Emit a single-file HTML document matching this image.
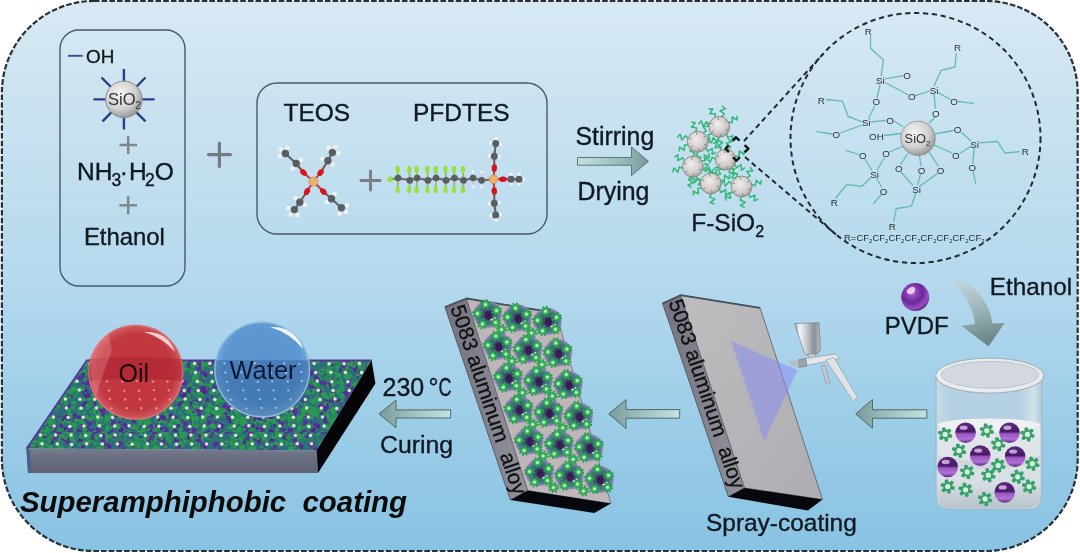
<!DOCTYPE html>
<html><head><meta charset="utf-8"><style>
html,body{margin:0;padding:0;background:#fff;width:1080px;height:553px;overflow:hidden}
svg{display:block;filter:blur(0.35px)}
text{font-family:"Liberation Sans",sans-serif}
text[fill="#101820"]{stroke:#101820;stroke-width:0.35px}
</style></head><body>
<svg width="1080" height="553" viewBox="0 0 1080 553">
<defs>
<linearGradient id="bg" x1="0" y1="0" x2="0" y2="1">
<stop offset="0" stop-color="#d8e9f4"/>
<stop offset="0.15" stop-color="#cde4f0"/>
<stop offset="0.5" stop-color="#b5d9ee"/>
<stop offset="0.83" stop-color="#96cae6"/>
<stop offset="1" stop-color="#89c3e3"/>
</linearGradient>
<linearGradient id="arrH" x1="1" y1="0" x2="0" y2="0">
<stop offset="0" stop-color="#c4e2e2"/>
<stop offset="0.6" stop-color="#9cbcbc"/>
<stop offset="1" stop-color="#7a9898"/>
</linearGradient>
<linearGradient id="arrR" x1="0" y1="0" x2="1" y2="0">
<stop offset="0" stop-color="#c4e2e2"/>
<stop offset="0.6" stop-color="#9cbcbc"/>
<stop offset="1" stop-color="#7a9898"/>
</linearGradient>
<linearGradient id="arrC" x1="0" y1="0" x2="0.25" y2="1">
<stop offset="0" stop-color="#c4d8e0"/>
<stop offset="0.5" stop-color="#a0b8bc"/>
<stop offset="1" stop-color="#6e8a8a"/>
</linearGradient>
<radialGradient id="sio2" cx="0.4" cy="0.35" r="0.7">
<stop offset="0" stop-color="#f6f6f6"/>
<stop offset="0.6" stop-color="#d0d0d0"/>
<stop offset="1" stop-color="#8e8e8e"/>
</radialGradient>
<radialGradient id="fs" cx="0.42" cy="0.38" r="0.65">
<stop offset="0" stop-color="#f2eeee"/>
<stop offset="0.7" stop-color="#cfc8c6"/>
<stop offset="1" stop-color="#a39c9a"/>
</radialGradient>
<radialGradient id="pv" cx="0.45" cy="0.3" r="0.7">
<stop offset="0" stop-color="#e6c2f4"/>
<stop offset="0.25" stop-color="#a45cc8"/>
<stop offset="0.7" stop-color="#6a2a90"/>
<stop offset="1" stop-color="#4a1a6a"/>
</radialGradient>
<radialGradient id="oil" cx="0.5" cy="0.5" r="0.5">
<stop offset="0" stop-color="#c2343c"/>
<stop offset="0.8" stop-color="#c23840"/>
<stop offset="1" stop-color="#d25c62"/>
</radialGradient>
<radialGradient id="water" cx="0.5" cy="0.45" r="0.55">
<stop offset="0" stop-color="#5a94d0"/>
<stop offset="0.75" stop-color="#5e98d2"/>
<stop offset="1" stop-color="#8cbce4"/>
</radialGradient>
<linearGradient id="slabF" x1="0" y1="0" x2="0" y2="1">
<stop offset="0" stop-color="#777b8e"/>
<stop offset="0.3" stop-color="#6c7083"/>
<stop offset="1" stop-color="#5f6375"/>
</linearGradient>
<linearGradient id="sideF" x1="0" y1="0" x2="1" y2="0">
<stop offset="0" stop-color="#747482"/>
<stop offset="1" stop-color="#92929c"/>
</linearGradient>
<linearGradient id="frontF" x1="0" y1="0" x2="1" y2="1">
<stop offset="0" stop-color="#bdbdc0"/>
<stop offset="1" stop-color="#aeaeb2"/>
</linearGradient>
<linearGradient id="glass" x1="0" y1="0" x2="1" y2="0">
<stop offset="0" stop-color="#c6dbe8"/>
<stop offset="0.15" stop-color="#b4d0e3"/>
<stop offset="0.8" stop-color="#b4d0e3"/>
<stop offset="0.92" stop-color="#d2e2ec"/>
<stop offset="1" stop-color="#b0c8d8"/>
</linearGradient>
<linearGradient id="liq" x1="0" y1="0" x2="0" y2="1">
<stop offset="0" stop-color="#e4e9ec"/>
<stop offset="0.7" stop-color="#d8dfe4"/>
<stop offset="1" stop-color="#b8c2ca"/>
</linearGradient>
<pattern id="surf" width="14" height="10" patternUnits="userSpaceOnUse" patternTransform="skewX(-32)">
<rect width="14" height="10" fill="#2f8a62"/>
<path d="M0,2 l4,1 l-1,3 l-3,-1z M7,0 l3,2 l-2,2 l-2,-1z M9,6 l4,1 l-1,3 l-4,-1z M2,7 l3,0 l0,3 l-3,0z" fill="#5a2e96"/>
<path d="M4,4 l3,0 l0,2 l-3,0z M11,2 l3,1 l-1,2 l-2,-1z" fill="#2aa860"/>
<circle cx="7" cy="5" r="1.6" fill="#e6ecd8"/>
</pattern>
<g id="gear">
<g fill="#38a06a"><circle cx="5.16" cy="1.60" r="2"/><circle cx="1.20" cy="5.27" r="2"/><circle cx="-3.96" cy="3.67" r="2"/><circle cx="-5.16" cy="-1.60" r="2"/><circle cx="-1.20" cy="-5.27" r="2"/><circle cx="3.96" cy="-3.67" r="2"/></g>
<circle r="4.6" fill="#38a06a"/>
<circle r="2.6" fill="#d4f2dc"/>
</g>
<g id="pgear">
<circle r="4.5" fill="none" stroke="#28a050" stroke-width="2.1" stroke-dasharray="1.8 1.73"/>
<circle r="3.5" fill="#3cb862" stroke="#1f8a40" stroke-width="0.6"/>
<circle r="1.5" fill="#c4f8c4"/>
</g>
<radialGradient id="ppart" cx="0.5" cy="0.5" r="0.5">
<stop offset="0" stop-color="#3a2456"/>
<stop offset="0.3" stop-color="#3e4c6c"/>
<stop offset="0.75" stop-color="#4e7290"/>
<stop offset="0.92" stop-color="#8a80b8"/>
<stop offset="1" stop-color="#a486c6"/>
</radialGradient>
<linearGradient id="pbg" x1="0" y1="0" x2="0" y2="1">
<stop offset="0" stop-color="#5a2a7a"/>
<stop offset="0.45" stop-color="#4a1a68"/>
<stop offset="0.55" stop-color="#9a58c0"/>
<stop offset="0.8" stop-color="#b070d8"/>
<stop offset="1" stop-color="#5a2a7a"/>
</linearGradient>
<g id="pball">
<circle r="10.3" fill="url(#pbg)"/>
<ellipse cx="-2" cy="-5" rx="4" ry="2.2" fill="#e0c0f0" opacity="0.8"/>
</g>
<linearGradient id="cupG" x1="0" y1="0" x2="1" y2="0">
<stop offset="0" stop-color="#9aa0a8"/>
<stop offset="0.2" stop-color="#f4f6f8"/>
<stop offset="0.45" stop-color="#c8ccd2"/>
<stop offset="0.75" stop-color="#8a9098"/>
<stop offset="1" stop-color="#b8bcc4"/>
</linearGradient>
<radialGradient id="pvd" cx="0.38" cy="0.32" r="0.7">
<stop offset="0" stop-color="#dcb4ee"/>
<stop offset="0.2" stop-color="#9448bc"/>
<stop offset="0.55" stop-color="#6c2696"/>
<stop offset="0.85" stop-color="#9652c4"/>
<stop offset="1" stop-color="#5e2284"/>
</radialGradient>
</defs>
<rect x="1.9" y="1" width="1075.8" height="550" rx="92" ry="92" fill="url(#bg)" stroke="#26313a" stroke-width="2.2" stroke-dasharray="5.6 2.1"/>
<!-- ===== Left box ===== -->
<rect x="60" y="30" width="125" height="256" rx="19" fill="none" stroke="#4a5868" stroke-width="1.4"/>
<line x1="68" y1="55.8" x2="82.7" y2="55.8" stroke="#3c4a96" stroke-width="1.9"/>
<text x="86" y="62.5" font-size="18.9" fill="#101820">OH</text>
<g stroke="#2e3c88" stroke-width="2.4">
<line x1="123.9" y1="69" x2="123.9" y2="129.5"/>
<line x1="93.5" y1="99.4" x2="154.5" y2="99.4"/>
<line x1="101.5" y1="77.5" x2="145.5" y2="121.3"/>
<line x1="145.5" y1="77.5" x2="102.5" y2="121.3"/>
</g>
<circle cx="123.9" cy="99.4" r="18.3" fill="url(#sio2)" stroke="#8a9090" stroke-width="1"/>
<text x="108" y="105.4" font-size="16.6" fill="#333">SiO<tspan font-size="10.5" dy="3.6" dx="-0.5">2</tspan></text>
<g stroke="#80868c" stroke-width="2.5">
<line x1="119.5" y1="145" x2="137" y2="145"/><line x1="128.2" y1="136" x2="128.2" y2="154"/>
<line x1="119.5" y1="205.3" x2="137" y2="205.3"/><line x1="128.2" y1="196.3" x2="128.2" y2="214.3"/>
</g>
<text x="77" y="180.4" font-size="24.5" fill="#101820">NH<tspan font-size="17.5" dy="5.3" dx="-1">3</tspan><tspan dy="-5.3" dx="-1.5">·</tspan><tspan dx="1.3">H</tspan><tspan font-size="17.5" dy="5.3" dx="-1.7">2</tspan><tspan dy="-5.3" dx="-0.1">O</tspan></text>
<text x="83.9" y="244.6" font-size="23.9" fill="#101820">Ethanol</text>

<!-- big plus -->
<g stroke="#737a82" stroke-width="3.2" stroke-linecap="round">
<line x1="208.5" y1="154.6" x2="230.5" y2="154.6"/><line x1="219.4" y1="143" x2="219.4" y2="166.5"/>
</g>

<!-- ===== TEOS box ===== -->
<rect x="257" y="83" width="290" height="151" rx="20" fill="none" stroke="#4a5868" stroke-width="1.4"/>
<text x="283.5" y="121.2" font-size="24.5" fill="#101820">TEOS</text>
<text x="413" y="121.2" font-size="24.5" fill="#101820">PFDTES</text>
<g stroke="#7a7f86" stroke-width="3" stroke-linecap="round">
<line x1="361" y1="180.5" x2="380" y2="180.5"/><line x1="370.5" y1="171" x2="370.5" y2="190"/>
</g>
<g id="molecules"><line x1="313.4" y1="181.5" x2="303.5" y2="172.5" stroke="#b04040" stroke-width="2"/>
<line x1="303.5" y1="172.5" x2="296.2" y2="163.5" stroke="#7a5050" stroke-width="2"/>
<line x1="296.2" y1="163.5" x2="285.4" y2="153.5" stroke="#606468" stroke-width="2.2"/>
<line x1="313.4" y1="181.5" x2="320.6" y2="172.5" stroke="#b04040" stroke-width="2"/>
<line x1="320.6" y1="172.5" x2="327.9" y2="160.7" stroke="#7a5050" stroke-width="2"/>
<line x1="327.9" y1="160.7" x2="332.4" y2="152.6" stroke="#606468" stroke-width="2.2"/>
<line x1="313.4" y1="181.5" x2="307.0" y2="191.5" stroke="#b04040" stroke-width="2"/>
<line x1="307.0" y1="191.5" x2="299.8" y2="202.3" stroke="#7a5050" stroke-width="2"/>
<line x1="299.8" y1="202.3" x2="294.4" y2="209.6" stroke="#606468" stroke-width="2.2"/>
<line x1="313.4" y1="181.5" x2="323.3" y2="191.5" stroke="#b04040" stroke-width="2"/>
<line x1="323.3" y1="191.5" x2="331.5" y2="198.7" stroke="#7a5050" stroke-width="2"/>
<line x1="331.5" y1="198.7" x2="341.4" y2="207.8" stroke="#606468" stroke-width="2.2"/>
<line x1="296.2" y1="163.5" x2="300.9" y2="159.9" stroke="#d0d0d0" stroke-width="1.2"/>
<line x1="296.2" y1="163.5" x2="293.0" y2="168.4" stroke="#d0d0d0" stroke-width="1.2"/>
<line x1="285.4" y1="153.5" x2="280.9" y2="149.3" stroke="#d0d0d0" stroke-width="1.2"/>
<line x1="285.4" y1="153.5" x2="287.4" y2="147.7" stroke="#d0d0d0" stroke-width="1.2"/>
<line x1="285.4" y1="153.5" x2="279.8" y2="155.9" stroke="#d0d0d0" stroke-width="1.2"/>
<circle cx="300.9" cy="159.9" r="2.3" fill="#f2f2f2"/>
<circle cx="293.0" cy="168.4" r="2.3" fill="#f2f2f2"/>
<circle cx="280.9" cy="149.3" r="2.3" fill="#f2f2f2"/>
<circle cx="287.4" cy="147.7" r="2.3" fill="#f2f2f2"/>
<circle cx="279.8" cy="155.9" r="2.3" fill="#f2f2f2"/>
<circle cx="296.2" cy="163.5" r="3.7" fill="#5a5e62"/>
<circle cx="285.4" cy="153.5" r="3.7" fill="#5a5e62"/>
<ellipse cx="303.5" cy="172.5" rx="3.8" ry="2.7" transform="rotate(-137.72631099390622 303.5 172.5)" fill="#d8141a"/>
<line x1="327.9" y1="160.7" x2="332.5" y2="164.4" stroke="#d0d0d0" stroke-width="1.2"/>
<line x1="327.9" y1="160.7" x2="322.3" y2="158.8" stroke="#d0d0d0" stroke-width="1.2"/>
<line x1="332.4" y1="152.6" x2="335.4" y2="147.2" stroke="#d0d0d0" stroke-width="1.2"/>
<line x1="332.4" y1="152.6" x2="338.5" y2="153.1" stroke="#d0d0d0" stroke-width="1.2"/>
<line x1="332.4" y1="152.6" x2="328.7" y2="147.7" stroke="#d0d0d0" stroke-width="1.2"/>
<circle cx="332.5" cy="164.4" r="2.3" fill="#f2f2f2"/>
<circle cx="322.3" cy="158.8" r="2.3" fill="#f2f2f2"/>
<circle cx="335.4" cy="147.2" r="2.3" fill="#f2f2f2"/>
<circle cx="338.5" cy="153.1" r="2.3" fill="#f2f2f2"/>
<circle cx="328.7" cy="147.7" r="2.3" fill="#f2f2f2"/>
<circle cx="327.9" cy="160.7" r="3.7" fill="#5a5e62"/>
<circle cx="332.4" cy="152.6" r="3.7" fill="#5a5e62"/>
<ellipse cx="320.6" cy="172.5" rx="3.8" ry="2.7" transform="rotate(-51.340191745909735 320.6 172.5)" fill="#d8141a"/>
<line x1="299.8" y1="202.3" x2="295.7" y2="198.0" stroke="#d0d0d0" stroke-width="1.2"/>
<line x1="299.8" y1="202.3" x2="305.1" y2="204.9" stroke="#d0d0d0" stroke-width="1.2"/>
<line x1="294.4" y1="209.6" x2="290.7" y2="214.6" stroke="#d0d0d0" stroke-width="1.2"/>
<line x1="294.4" y1="209.6" x2="288.4" y2="208.3" stroke="#d0d0d0" stroke-width="1.2"/>
<line x1="294.4" y1="209.6" x2="297.4" y2="214.9" stroke="#d0d0d0" stroke-width="1.2"/>
<circle cx="295.7" cy="198.0" r="2.3" fill="#f2f2f2"/>
<circle cx="305.1" cy="204.9" r="2.3" fill="#f2f2f2"/>
<circle cx="290.7" cy="214.6" r="2.3" fill="#f2f2f2"/>
<circle cx="288.4" cy="208.3" r="2.3" fill="#f2f2f2"/>
<circle cx="297.4" cy="214.9" r="2.3" fill="#f2f2f2"/>
<circle cx="299.8" cy="202.3" r="3.7" fill="#5a5e62"/>
<circle cx="294.4" cy="209.6" r="3.7" fill="#5a5e62"/>
<ellipse cx="307.0" cy="191.5" rx="3.8" ry="2.7" transform="rotate(122.61924307119274 307.0 191.5)" fill="#d8141a"/>
<line x1="331.5" y1="198.7" x2="326.8" y2="202.3" stroke="#d0d0d0" stroke-width="1.2"/>
<line x1="331.5" y1="198.7" x2="334.7" y2="193.8" stroke="#d0d0d0" stroke-width="1.2"/>
<line x1="341.4" y1="207.8" x2="346.0" y2="212.0" stroke="#d0d0d0" stroke-width="1.2"/>
<line x1="341.4" y1="207.8" x2="339.5" y2="213.6" stroke="#d0d0d0" stroke-width="1.2"/>
<line x1="341.4" y1="207.8" x2="347.0" y2="205.4" stroke="#d0d0d0" stroke-width="1.2"/>
<circle cx="326.8" cy="202.3" r="2.3" fill="#f2f2f2"/>
<circle cx="334.7" cy="193.8" r="2.3" fill="#f2f2f2"/>
<circle cx="346.0" cy="212.0" r="2.3" fill="#f2f2f2"/>
<circle cx="339.5" cy="213.6" r="2.3" fill="#f2f2f2"/>
<circle cx="347.0" cy="205.4" r="2.3" fill="#f2f2f2"/>
<circle cx="331.5" cy="198.7" r="3.7" fill="#5a5e62"/>
<circle cx="341.4" cy="207.8" r="3.7" fill="#5a5e62"/>
<ellipse cx="323.3" cy="191.5" rx="3.8" ry="2.7" transform="rotate(45.287916066556996 323.3 191.5)" fill="#d8141a"/>
<circle cx="313.4" cy="181.5" r="4.6" fill="#eeb070" stroke="#c08040" stroke-width="0.5"/>
<line x1="391.0" y1="179.2" x2="398.1" y2="178.0" stroke="#707070" stroke-width="2"/>
<line x1="398.1" y1="178.0" x2="409.8" y2="180.4" stroke="#6a6e72" stroke-width="2.2"/>
<line x1="409.8" y1="180.4" x2="417.1" y2="178.0" stroke="#6a6e72" stroke-width="2.2"/>
<line x1="417.1" y1="178.0" x2="427.9" y2="180.4" stroke="#6a6e72" stroke-width="2.2"/>
<line x1="427.9" y1="180.4" x2="436.1" y2="178.0" stroke="#6a6e72" stroke-width="2.2"/>
<line x1="436.1" y1="178.0" x2="446.0" y2="180.4" stroke="#6a6e72" stroke-width="2.2"/>
<line x1="446.0" y1="180.4" x2="454.5" y2="178.0" stroke="#6a6e72" stroke-width="2.2"/>
<line x1="454.5" y1="178.0" x2="463.5" y2="180.4" stroke="#6a6e72" stroke-width="2.2"/>
<line x1="463.5" y1="180.4" x2="473.1" y2="178.0" stroke="#6a6e72" stroke-width="2.2"/>
<line x1="473.1" y1="178.0" x2="481.6" y2="180.4" stroke="#6a6e72" stroke-width="2.2"/>
<line x1="481.6" y1="180.4" x2="493.6" y2="179.2" stroke="#706860" stroke-width="2"/>
<line x1="398.1" y1="178.0" x2="397.6" y2="169.4" stroke="#90b860" stroke-width="1.6"/>
<line x1="398.1" y1="178.0" x2="397.6" y2="189.7" stroke="#90b860" stroke-width="1.6"/>
<circle cx="397.6" cy="168.2" r="2.2" fill="#96e040"/>
<circle cx="397.6" cy="170.8" r="2.2" fill="#96e040"/>
<circle cx="397.6" cy="188.4" r="2.2" fill="#96e040"/>
<circle cx="397.6" cy="191.0" r="2.2" fill="#96e040"/>
<line x1="409.8" y1="180.4" x2="409.3" y2="169.4" stroke="#90b860" stroke-width="1.6"/>
<line x1="409.8" y1="180.4" x2="409.3" y2="189.7" stroke="#90b860" stroke-width="1.6"/>
<circle cx="409.3" cy="168.2" r="2.2" fill="#96e040"/>
<circle cx="409.3" cy="170.8" r="2.2" fill="#96e040"/>
<circle cx="409.3" cy="188.4" r="2.2" fill="#96e040"/>
<circle cx="409.3" cy="191.0" r="2.2" fill="#96e040"/>
<line x1="417.1" y1="178.0" x2="416.6" y2="169.4" stroke="#90b860" stroke-width="1.6"/>
<line x1="417.1" y1="178.0" x2="416.6" y2="189.7" stroke="#90b860" stroke-width="1.6"/>
<circle cx="416.6" cy="168.2" r="2.2" fill="#96e040"/>
<circle cx="416.6" cy="170.8" r="2.2" fill="#96e040"/>
<circle cx="416.6" cy="188.4" r="2.2" fill="#96e040"/>
<circle cx="416.6" cy="191.0" r="2.2" fill="#96e040"/>
<line x1="427.9" y1="180.4" x2="427.4" y2="169.4" stroke="#90b860" stroke-width="1.6"/>
<line x1="427.9" y1="180.4" x2="427.4" y2="189.7" stroke="#90b860" stroke-width="1.6"/>
<circle cx="427.4" cy="168.2" r="2.2" fill="#96e040"/>
<circle cx="427.4" cy="170.8" r="2.2" fill="#96e040"/>
<circle cx="427.4" cy="188.4" r="2.2" fill="#96e040"/>
<circle cx="427.4" cy="191.0" r="2.2" fill="#96e040"/>
<line x1="436.1" y1="178.0" x2="435.6" y2="169.4" stroke="#90b860" stroke-width="1.6"/>
<line x1="436.1" y1="178.0" x2="435.6" y2="189.7" stroke="#90b860" stroke-width="1.6"/>
<circle cx="435.6" cy="168.2" r="2.2" fill="#96e040"/>
<circle cx="435.6" cy="170.8" r="2.2" fill="#96e040"/>
<circle cx="435.6" cy="188.4" r="2.2" fill="#96e040"/>
<circle cx="435.6" cy="191.0" r="2.2" fill="#96e040"/>
<line x1="446.0" y1="180.4" x2="445.5" y2="169.4" stroke="#90b860" stroke-width="1.6"/>
<line x1="446.0" y1="180.4" x2="445.5" y2="189.7" stroke="#90b860" stroke-width="1.6"/>
<circle cx="445.5" cy="168.2" r="2.2" fill="#96e040"/>
<circle cx="445.5" cy="170.8" r="2.2" fill="#96e040"/>
<circle cx="445.5" cy="188.4" r="2.2" fill="#96e040"/>
<circle cx="445.5" cy="191.0" r="2.2" fill="#96e040"/>
<line x1="454.5" y1="178.0" x2="454.0" y2="169.4" stroke="#90b860" stroke-width="1.6"/>
<line x1="454.5" y1="178.0" x2="454.0" y2="189.7" stroke="#90b860" stroke-width="1.6"/>
<circle cx="454.0" cy="168.2" r="2.2" fill="#96e040"/>
<circle cx="454.0" cy="170.8" r="2.2" fill="#96e040"/>
<circle cx="454.0" cy="188.4" r="2.2" fill="#96e040"/>
<circle cx="454.0" cy="191.0" r="2.2" fill="#96e040"/>
<line x1="463.5" y1="180.4" x2="463.0" y2="169.4" stroke="#90b860" stroke-width="1.6"/>
<line x1="463.5" y1="180.4" x2="463.0" y2="189.7" stroke="#90b860" stroke-width="1.6"/>
<circle cx="463.0" cy="168.2" r="2.2" fill="#96e040"/>
<circle cx="463.0" cy="170.8" r="2.2" fill="#96e040"/>
<circle cx="463.0" cy="188.4" r="2.2" fill="#96e040"/>
<circle cx="463.0" cy="191.0" r="2.2" fill="#96e040"/>
<circle cx="390.3" cy="179.2" r="2.8" fill="#96e040"/>
<line x1="473.1" y1="178.0" x2="473.1" y2="172.0" stroke="#c8c8c8" stroke-width="1.2"/>
<line x1="473.1" y1="178.0" x2="473.1" y2="186.5" stroke="#c8c8c8" stroke-width="1.2"/>
<circle cx="473.1" cy="172.0" r="1.4" fill="#f2f2f2"/>
<circle cx="473.1" cy="186.5" r="1.4" fill="#f2f2f2"/>
<line x1="481.6" y1="180.4" x2="481.6" y2="172.0" stroke="#c8c8c8" stroke-width="1.2"/>
<line x1="481.6" y1="180.4" x2="481.6" y2="186.5" stroke="#c8c8c8" stroke-width="1.2"/>
<circle cx="481.6" cy="172.0" r="1.4" fill="#f2f2f2"/>
<circle cx="481.6" cy="186.5" r="1.4" fill="#f2f2f2"/>
<circle cx="398.1" cy="178.0" r="3.3" fill="#5a5e62"/>
<circle cx="409.8" cy="180.4" r="3.3" fill="#5a5e62"/>
<circle cx="417.1" cy="178.0" r="3.3" fill="#5a5e62"/>
<circle cx="427.9" cy="180.4" r="3.3" fill="#5a5e62"/>
<circle cx="436.1" cy="178.0" r="3.3" fill="#5a5e62"/>
<circle cx="446.0" cy="180.4" r="3.3" fill="#5a5e62"/>
<circle cx="454.5" cy="178.0" r="3.3" fill="#5a5e62"/>
<circle cx="463.5" cy="180.4" r="3.3" fill="#5a5e62"/>
<circle cx="473.1" cy="178.0" r="3.3" fill="#5a5e62"/>
<circle cx="481.6" cy="180.4" r="3.3" fill="#5a5e62"/>
<line x1="493.6" y1="179.2" x2="494.3" y2="168.0" stroke="#b04040" stroke-width="2"/>
<line x1="494.3" y1="168.0" x2="494.3" y2="156.2" stroke="#7a5050" stroke-width="2"/>
<line x1="494.3" y1="156.2" x2="495.7" y2="143.6" stroke="#606468" stroke-width="2.2"/>
<line x1="494.3" y1="156.2" x2="498.8" y2="156.7" stroke="#c8c8c8" stroke-width="1.1"/>
<circle cx="498.8" cy="156.7" r="2" fill="#f2f2f2"/>
<line x1="494.3" y1="156.2" x2="489.8" y2="155.7" stroke="#c8c8c8" stroke-width="1.1"/>
<circle cx="489.8" cy="155.7" r="2" fill="#f2f2f2"/>
<line x1="495.7" y1="143.6" x2="496.2" y2="139.1" stroke="#c8c8c8" stroke-width="1.1"/>
<circle cx="496.2" cy="139.1" r="2" fill="#f2f2f2"/>
<line x1="495.7" y1="143.6" x2="500.2" y2="144.1" stroke="#c8c8c8" stroke-width="1.1"/>
<circle cx="500.2" cy="144.1" r="2" fill="#f2f2f2"/>
<line x1="495.7" y1="143.6" x2="491.2" y2="143.1" stroke="#c8c8c8" stroke-width="1.1"/>
<circle cx="491.2" cy="143.1" r="2" fill="#f2f2f2"/>
<circle cx="494.3" cy="156.2" r="3.5" fill="#5a5e62"/>
<circle cx="495.7" cy="143.6" r="3.5" fill="#5a5e62"/>
<ellipse cx="494.3" cy="168.0" rx="3.8" ry="2.7" transform="rotate(-86.4236656250027 494.3 168.0)" fill="#d8141a"/>
<line x1="493.6" y1="179.2" x2="494.3" y2="191.0" stroke="#b04040" stroke-width="2"/>
<line x1="494.3" y1="191.0" x2="494.3" y2="203.2" stroke="#7a5050" stroke-width="2"/>
<line x1="494.3" y1="203.2" x2="495.7" y2="215.0" stroke="#606468" stroke-width="2.2"/>
<line x1="494.3" y1="203.2" x2="489.8" y2="203.7" stroke="#c8c8c8" stroke-width="1.1"/>
<circle cx="489.8" cy="203.7" r="2" fill="#f2f2f2"/>
<line x1="494.3" y1="203.2" x2="498.8" y2="202.7" stroke="#c8c8c8" stroke-width="1.1"/>
<circle cx="498.8" cy="202.7" r="2" fill="#f2f2f2"/>
<line x1="495.7" y1="215.0" x2="496.2" y2="219.5" stroke="#c8c8c8" stroke-width="1.1"/>
<circle cx="496.2" cy="219.5" r="2" fill="#f2f2f2"/>
<line x1="495.7" y1="215.0" x2="491.2" y2="215.5" stroke="#c8c8c8" stroke-width="1.1"/>
<circle cx="491.2" cy="215.5" r="2" fill="#f2f2f2"/>
<line x1="495.7" y1="215.0" x2="500.2" y2="214.5" stroke="#c8c8c8" stroke-width="1.1"/>
<circle cx="500.2" cy="214.5" r="2" fill="#f2f2f2"/>
<circle cx="494.3" cy="203.2" r="3.5" fill="#5a5e62"/>
<circle cx="495.7" cy="215.0" r="3.5" fill="#5a5e62"/>
<ellipse cx="494.3" cy="191.0" rx="3.8" ry="2.7" transform="rotate(86.6050764578818 494.3 191.0)" fill="#d8141a"/>
<line x1="493.6" y1="179.2" x2="503.0" y2="179.2" stroke="#b04040" stroke-width="2"/>
<line x1="503.0" y1="179.2" x2="511.0" y2="179.2" stroke="#7a5050" stroke-width="2"/>
<line x1="511.0" y1="179.2" x2="519.0" y2="179.2" stroke="#606468" stroke-width="2.2"/>
<line x1="511.0" y1="179.2" x2="511.0" y2="183.7" stroke="#c8c8c8" stroke-width="1.1"/>
<circle cx="511.0" cy="183.7" r="2" fill="#f2f2f2"/>
<line x1="511.0" y1="179.2" x2="511.0" y2="174.7" stroke="#c8c8c8" stroke-width="1.1"/>
<circle cx="511.0" cy="174.7" r="2" fill="#f2f2f2"/>
<line x1="519.0" y1="179.2" x2="523.5" y2="179.2" stroke="#c8c8c8" stroke-width="1.1"/>
<circle cx="523.5" cy="179.2" r="2" fill="#f2f2f2"/>
<line x1="519.0" y1="179.2" x2="519.0" y2="183.7" stroke="#c8c8c8" stroke-width="1.1"/>
<circle cx="519.0" cy="183.7" r="2" fill="#f2f2f2"/>
<line x1="519.0" y1="179.2" x2="519.0" y2="174.7" stroke="#c8c8c8" stroke-width="1.1"/>
<circle cx="519.0" cy="174.7" r="2" fill="#f2f2f2"/>
<circle cx="511.0" cy="179.2" r="3.5" fill="#5a5e62"/>
<circle cx="519.0" cy="179.2" r="3.5" fill="#5a5e62"/>
<ellipse cx="503.0" cy="179.2" rx="3.8" ry="2.7" transform="rotate(0.0 503.0 179.2)" fill="#d8141a"/>
<circle cx="493.6" cy="179.2" r="4.4" fill="#eeb070" stroke="#c08040" stroke-width="0.5"/></g>
<g id="fsio2"><path d="M719.9,136.2 L717.6,140.3 L722.7,142.5 L717.9,145.8 L722.0,147.6" fill="none" stroke="#36b87a" stroke-width="1.55" stroke-linejoin="round"/>
<path d="M712.8,133.6 L708.2,134.7 L710.0,140.0 L704.4,138.6 L705.8,142.9" fill="none" stroke="#36b87a" stroke-width="1.55" stroke-linejoin="round"/>
<path d="M710.1,125.0 L706.6,121.8 L703.2,126.3 L701.2,120.8 L698.5,124.3" fill="none" stroke="#36b87a" stroke-width="1.55" stroke-linejoin="round"/>
<path d="M715.0,118.4 L715.4,113.7 L709.8,113.8 L712.9,108.8 L708.4,108.9" fill="none" stroke="#36b87a" stroke-width="1.55" stroke-linejoin="round"/>
<path d="M721.2,117.6 L724.4,114.2 L720.0,110.7 L725.5,108.8 L722.0,106.0" fill="none" stroke="#36b87a" stroke-width="1.55" stroke-linejoin="round"/>
<path d="M727.6,122.3 L732.3,122.6 L732.1,117.0 L737.1,120.0 L737.0,115.5" fill="none" stroke="#36b87a" stroke-width="1.55" stroke-linejoin="round"/>
<path d="M726.3,133.1 L727.6,137.6 L732.8,135.6 L731.7,141.3 L735.9,139.6" fill="none" stroke="#36b87a" stroke-width="1.55" stroke-linejoin="round"/>
<path d="M698.3,151.1 L696.0,155.2 L701.1,157.5 L696.2,160.7 L700.3,162.5" fill="none" stroke="#36b87a" stroke-width="1.55" stroke-linejoin="round"/>
<path d="M689.2,145.5 L684.5,144.8 L684.3,150.4 L679.5,147.1 L679.3,151.5" fill="none" stroke="#36b87a" stroke-width="1.55" stroke-linejoin="round"/>
<path d="M688.7,139.2 L685.6,135.7 L681.8,139.9 L680.3,134.2 L677.3,137.6" fill="none" stroke="#36b87a" stroke-width="1.55" stroke-linejoin="round"/>
<path d="M695.4,132.6 L696.8,128.1 L691.4,127.0 L695.4,122.8 L691.1,121.9" fill="none" stroke="#36b87a" stroke-width="1.55" stroke-linejoin="round"/>
<path d="M702.3,133.4 L706.4,131.1 L703.2,126.5 L709.0,126.3 L706.5,122.6" fill="none" stroke="#36b87a" stroke-width="1.55" stroke-linejoin="round"/>
<path d="M707.1,140.7 L711.4,142.7 L713.3,137.5 L716.9,142.1 L718.4,137.9" fill="none" stroke="#36b87a" stroke-width="1.55" stroke-linejoin="round"/>
<path d="M705.6,146.9 L707.5,151.2 L712.4,148.5 L712.1,154.3 L716.0,152.1" fill="none" stroke="#36b87a" stroke-width="1.55" stroke-linejoin="round"/>
<path d="M720.6,151.7 L720.5,147.0 L714.9,147.7 L717.5,142.4 L713.0,142.9" fill="none" stroke="#36b87a" stroke-width="1.55" stroke-linejoin="round"/>
<path d="M727.4,150.4 L730.6,146.9 L726.1,143.5 L731.6,141.5 L728.0,138.8" fill="none" stroke="#36b87a" stroke-width="1.55" stroke-linejoin="round"/>
<path d="M734.3,155.9 L739.0,156.6 L739.3,151.0 L744.1,154.5 L744.3,150.0" fill="none" stroke="#36b87a" stroke-width="1.55" stroke-linejoin="round"/>
<path d="M734.1,163.8 L736.6,167.8 L741.0,164.5 L741.5,170.3 L745.1,167.6" fill="none" stroke="#36b87a" stroke-width="1.55" stroke-linejoin="round"/>
<path d="M729.8,168.1 L729.3,172.7 L734.9,172.8 L731.7,177.7 L736.2,177.8" fill="none" stroke="#36b87a" stroke-width="1.55" stroke-linejoin="round"/>
<path d="M719.5,166.6 L714.9,168.0 L717.0,173.2 L711.3,172.1 L713.0,176.2" fill="none" stroke="#36b87a" stroke-width="1.55" stroke-linejoin="round"/>
<path d="M716.3,159.7 L712.3,157.3 L709.8,162.4 L706.8,157.4 L704.8,161.4" fill="none" stroke="#36b87a" stroke-width="1.55" stroke-linejoin="round"/>
<path d="M691.6,175.9 L688.6,179.5 L693.3,182.7 L687.9,185.0 L691.6,187.5" fill="none" stroke="#36b87a" stroke-width="1.55" stroke-linejoin="round"/>
<path d="M683.7,168.5 L679.3,166.9 L677.8,172.3 L673.9,168.0 L672.7,172.3" fill="none" stroke="#36b87a" stroke-width="1.55" stroke-linejoin="round"/>
<path d="M684.8,161.8 L682.6,157.6 L677.9,160.6 L677.9,154.8 L674.2,157.2" fill="none" stroke="#36b87a" stroke-width="1.55" stroke-linejoin="round"/>
<path d="M692.5,157.2 L694.9,153.1 L689.8,150.8 L694.6,147.6 L690.6,145.8" fill="none" stroke="#36b87a" stroke-width="1.55" stroke-linejoin="round"/>
<path d="M700.4,160.9 L705.1,160.5 L704.1,155.0 L709.5,157.2 L708.6,152.8" fill="none" stroke="#36b87a" stroke-width="1.55" stroke-linejoin="round"/>
<path d="M702.1,168.3 L705.6,171.5 L709.0,167.0 L711.0,172.5 L713.7,168.9" fill="none" stroke="#36b87a" stroke-width="1.55" stroke-linejoin="round"/>
<path d="M696.6,175.2 L695.9,179.9 L701.5,180.2 L698.1,184.9 L702.6,185.2" fill="none" stroke="#36b87a" stroke-width="1.55" stroke-linejoin="round"/>
<path d="M702.7,188.3 L698.0,188.3 L698.5,193.8 L693.3,191.1 L693.7,195.5" fill="none" stroke="#36b87a" stroke-width="1.55" stroke-linejoin="round"/>
<path d="M701.6,181.5 L698.2,178.2 L694.7,182.6 L692.9,177.0 L690.1,180.5" fill="none" stroke="#36b87a" stroke-width="1.55" stroke-linejoin="round"/>
<path d="M708.4,174.4 L709.7,169.9 L704.3,168.8 L708.3,164.6 L703.9,163.7" fill="none" stroke="#36b87a" stroke-width="1.55" stroke-linejoin="round"/>
<path d="M716.2,175.8 L720.5,174.0 L717.9,169.1 L723.7,169.5 L721.6,165.5" fill="none" stroke="#36b87a" stroke-width="1.55" stroke-linejoin="round"/>
<path d="M719.6,180.1 L724.2,180.9 L724.7,175.4 L729.3,178.9 L729.7,174.5" fill="none" stroke="#36b87a" stroke-width="1.55" stroke-linejoin="round"/>
<path d="M718.9,188.3 L721.0,192.5 L725.7,189.5 L725.7,195.4 L729.5,193.0" fill="none" stroke="#36b87a" stroke-width="1.55" stroke-linejoin="round"/>
<path d="M711.7,192.9 L709.7,197.1 L714.9,199.1 L710.2,202.6 L714.4,204.1" fill="none" stroke="#36b87a" stroke-width="1.55" stroke-linejoin="round"/>
<path d="M750.7,184.2 L755.2,185.7 L756.4,180.2 L760.5,184.3 L761.5,180.0" fill="none" stroke="#36b87a" stroke-width="1.55" stroke-linejoin="round"/>
<path d="M748.6,192.8 L749.9,197.3 L755.1,195.2 L754.0,200.9 L758.2,199.3" fill="none" stroke="#36b87a" stroke-width="1.55" stroke-linejoin="round"/>
<path d="M742.3,195.9 L740.1,200.0 L745.3,202.2 L740.5,205.5 L744.7,207.2" fill="none" stroke="#36b87a" stroke-width="1.55" stroke-linejoin="round"/>
<path d="M734.2,192.3 L729.5,192.8 L730.6,198.3 L725.2,196.2 L726.1,200.6" fill="none" stroke="#36b87a" stroke-width="1.55" stroke-linejoin="round"/>
<path d="M732.4,184.8 L728.9,181.6 L725.5,186.1 L723.5,180.6 L720.8,184.2" fill="none" stroke="#36b87a" stroke-width="1.55" stroke-linejoin="round"/>
<path d="M737.1,178.3 L737.3,173.6 L731.7,173.8 L734.7,168.7 L730.2,168.9" fill="none" stroke="#36b87a" stroke-width="1.55" stroke-linejoin="round"/>
<path d="M746.0,178.2 L750.1,175.8 L746.8,171.3 L752.7,171.0 L750.1,167.3" fill="none" stroke="#36b87a" stroke-width="1.55" stroke-linejoin="round"/>
<circle cx="719.3" cy="126.8" r="10.4" fill="url(#fs)" stroke="#7e7a78" stroke-width="0.8"/>
<line x1="728.0" y1="130.5" x2="725.7" y2="129.5" stroke="#4a9a70" stroke-width="0.9"/>
<line x1="720.5" y1="136.1" x2="720.2" y2="133.6" stroke="#4a9a70" stroke-width="0.9"/>
<line x1="711.8" y1="132.5" x2="713.8" y2="131.0" stroke="#4a9a70" stroke-width="0.9"/>
<line x1="710.6" y1="123.1" x2="712.9" y2="124.1" stroke="#4a9a70" stroke-width="0.9"/>
<line x1="718.1" y1="117.5" x2="718.4" y2="120.0" stroke="#4a9a70" stroke-width="0.9"/>
<line x1="726.8" y1="121.1" x2="724.8" y2="122.6" stroke="#4a9a70" stroke-width="0.9"/>
<circle cx="697.8" cy="141.7" r="10.4" fill="url(#fs)" stroke="#7e7a78" stroke-width="0.8"/>
<line x1="706.5" y1="145.4" x2="704.2" y2="144.4" stroke="#4a9a70" stroke-width="0.9"/>
<line x1="699.0" y1="151.0" x2="698.7" y2="148.5" stroke="#4a9a70" stroke-width="0.9"/>
<line x1="690.3" y1="147.4" x2="692.3" y2="145.9" stroke="#4a9a70" stroke-width="0.9"/>
<line x1="689.1" y1="138.0" x2="691.4" y2="139.0" stroke="#4a9a70" stroke-width="0.9"/>
<line x1="696.6" y1="132.4" x2="696.9" y2="134.9" stroke="#4a9a70" stroke-width="0.9"/>
<line x1="705.3" y1="136.0" x2="703.3" y2="137.5" stroke="#4a9a70" stroke-width="0.9"/>
<circle cx="725.7" cy="159.6" r="10.4" fill="url(#fs)" stroke="#7e7a78" stroke-width="0.8"/>
<line x1="734.4" y1="163.3" x2="732.1" y2="162.3" stroke="#4a9a70" stroke-width="0.9"/>
<line x1="726.9" y1="168.9" x2="726.6" y2="166.4" stroke="#4a9a70" stroke-width="0.9"/>
<line x1="718.2" y1="165.3" x2="720.2" y2="163.8" stroke="#4a9a70" stroke-width="0.9"/>
<line x1="717.0" y1="155.9" x2="719.3" y2="156.9" stroke="#4a9a70" stroke-width="0.9"/>
<line x1="724.5" y1="150.3" x2="724.8" y2="152.8" stroke="#4a9a70" stroke-width="0.9"/>
<line x1="733.2" y1="153.9" x2="731.2" y2="155.4" stroke="#4a9a70" stroke-width="0.9"/>
<circle cx="692.9" cy="166.6" r="10.4" fill="url(#fs)" stroke="#7e7a78" stroke-width="0.8"/>
<line x1="701.6" y1="170.3" x2="699.3" y2="169.3" stroke="#4a9a70" stroke-width="0.9"/>
<line x1="694.1" y1="175.9" x2="693.8" y2="173.4" stroke="#4a9a70" stroke-width="0.9"/>
<line x1="685.4" y1="172.3" x2="687.4" y2="170.8" stroke="#4a9a70" stroke-width="0.9"/>
<line x1="684.2" y1="162.9" x2="686.5" y2="163.9" stroke="#4a9a70" stroke-width="0.9"/>
<line x1="691.7" y1="157.3" x2="692.0" y2="159.8" stroke="#4a9a70" stroke-width="0.9"/>
<line x1="700.4" y1="160.9" x2="698.4" y2="162.4" stroke="#4a9a70" stroke-width="0.9"/>
<circle cx="710.8" cy="183.5" r="10.4" fill="url(#fs)" stroke="#7e7a78" stroke-width="0.8"/>
<line x1="719.5" y1="187.2" x2="717.2" y2="186.2" stroke="#4a9a70" stroke-width="0.9"/>
<line x1="712.0" y1="192.8" x2="711.7" y2="190.3" stroke="#4a9a70" stroke-width="0.9"/>
<line x1="703.3" y1="189.2" x2="705.3" y2="187.7" stroke="#4a9a70" stroke-width="0.9"/>
<line x1="702.1" y1="179.8" x2="704.4" y2="180.8" stroke="#4a9a70" stroke-width="0.9"/>
<line x1="709.6" y1="174.2" x2="709.9" y2="176.7" stroke="#4a9a70" stroke-width="0.9"/>
<line x1="718.3" y1="177.8" x2="716.3" y2="179.3" stroke="#4a9a70" stroke-width="0.9"/>
<circle cx="741.6" cy="186.5" r="10.4" fill="url(#fs)" stroke="#7e7a78" stroke-width="0.8"/>
<line x1="750.3" y1="190.2" x2="748.0" y2="189.2" stroke="#4a9a70" stroke-width="0.9"/>
<line x1="742.8" y1="195.8" x2="742.5" y2="193.3" stroke="#4a9a70" stroke-width="0.9"/>
<line x1="734.1" y1="192.2" x2="736.1" y2="190.7" stroke="#4a9a70" stroke-width="0.9"/>
<line x1="732.9" y1="182.8" x2="735.2" y2="183.8" stroke="#4a9a70" stroke-width="0.9"/>
<line x1="740.4" y1="177.2" x2="740.7" y2="179.7" stroke="#4a9a70" stroke-width="0.9"/>
<line x1="749.1" y1="180.8" x2="747.1" y2="182.3" stroke="#4a9a70" stroke-width="0.9"/>
<path d="M732.7,140.6 L735.8,137.2 L739.6,140.6 M744.6,145.2 L748.4,148.6 L744.7,152.3 M739.9,157.1 L736.2,160.8 L733.0,157.1 M728.8,152.3 L725.6,148.6 L728.7,145.2" fill="none" stroke="#141414" stroke-width="2.4" stroke-linejoin="round"/></g>
<g id="circ"><g fill="none" stroke="#62bcae" stroke-width="1.3"><path d="M870.5,36 L870.5,48.2 L883.4,60 L881.1,76.5"/><path d="M884.6,78.8 L903.4,75.6"/><path d="M884.6,82.3 L908,94.8"/><path d="M915,95.6 L930,91"/><path d="M934,86 L941,70.5 L955,67 L956.3,52.9"/><path d="M938,92.5 L951,99.7"/><path d="M958,101.5 L974,103.4"/><path d="M934,94 L935.5,109"/><path d="M935,117 L929,123.5"/><path d="M880,85 L877,98"/><path d="M875,105.5 L868.5,118.5"/><path d="M862.5,122 L848.2,116.4 L842.3,101.1 L826,99.5"/><path d="M862.5,125 L840,133"/><path d="M832.5,134 L816.5,131.7"/><path d="M870.5,122 L886,120.3"/><path d="M894,121 L903.4,127"/><path d="M884,135.5 L901.5,133.5"/><path d="M934.5,134 L953.5,130.5"/><path d="M961,132 L971,141"/><path d="M934,145 L952,153"/><path d="M959.5,153.5 L971,146.5"/><path d="M978.5,142.8 L997.5,141.5 L1005,153 L1020,151.6"/><path d="M974.3,148 L972.6,164"/><path d="M973,171.5 L976,184.6"/><path d="M903.5,146 L889.5,152"/><path d="M884.5,157.5 L877,170"/><path d="M865,159 L872,170.5"/><path d="M859,154.5 L845.6,150.4"/><path d="M876.5,178 L881.7,187.3"/><path d="M881.5,194.5 L873.4,203.5"/><path d="M871,177.5 L862,186.3 L846.8,184.5 L835.5,198.5"/><path d="M908,153.5 L900.5,164.5"/><path d="M901,172 L913,185.5"/><path d="M919.5,155.5 L921,166.5"/><path d="M920.5,174 L917.5,185"/><path d="M929,152 L938.5,166.5"/><path d="M937.5,173.5 L920,186"/><path d="M916,192.5 L911.4,206.1 L896.2,208.6 L893.7,221.5"/></g><g font-size="9.8" fill="#2e3236" text-anchor="middle"><text x="868.2" y="34.9">R</text><text x="880.4" y="84.2">Si</text><text x="907" y="78.8">O</text><text x="911.7" y="100.0">O</text><text x="934" y="93.6">Si</text><text x="957.5" y="51.3">R</text><text x="954" y="104.6">O</text><text x="935.9" y="116.5">O</text><text x="876.4" y="105.4">O</text><text x="866.3" y="126.3">Si</text><text x="821.2" y="103.5">R</text><text x="836.4" y="138.1">O</text><text x="890" y="123.6">O</text><text x="876.4" y="140.0">OH</text><text x="957.5" y="133.2">O</text><text x="955.7" y="158.5">O</text><text x="974.7" y="147.6">Si</text><text x="1025.3" y="155.2">R</text><text x="972.2" y="171.2">O</text><text x="886" y="157.3">O</text><text x="862.8" y="159.0">O</text><text x="874.7" y="178.0">Si</text><text x="883.5" y="194.5">O</text><text x="834.2" y="205.9">R</text><text x="898.7" y="171.7">O</text><text x="921.5" y="173.7">O</text><text x="940.5" y="173.7">O</text><text x="916.5" y="192.5">Si</text><text x="892.4" y="229.9">R</text></g><circle cx="918" cy="138.3" r="17.2" fill="url(#sio2)" stroke="#8a8a8a" stroke-width="0.8"/><text x="917.5" y="142.8" font-size="12.8" fill="#333" text-anchor="middle">SiO<tspan font-size="8" dy="3.3">2</tspan></text><text x="844" y="240.5" font-size="9.5" fill="#2a2d30">R=CF<tspan font-size="6" dy="2">2</tspan><tspan dy="-2">CF</tspan><tspan font-size="6" dy="2">2</tspan><tspan dy="-2">CF</tspan><tspan font-size="6" dy="2">2</tspan><tspan dy="-2">CF</tspan><tspan font-size="6" dy="2">2</tspan><tspan dy="-2">CF</tspan><tspan font-size="6" dy="2">2</tspan><tspan dy="-2">CF</tspan><tspan font-size="6" dy="2">2</tspan><tspan dy="-2">CF</tspan><tspan font-size="6" dy="2">2</tspan><tspan dy="-2">CF</tspan><tspan font-size="6" dy="2">3</tspan></text></g>
<defs><pattern id="surf2" width="96" height="72" patternUnits="userSpaceOnUse">
<rect width="96" height="72" fill="#2c6c7c"/>
<polygon points="40.4,39.7 45.3,37.8 45.7,41.1 42.5,43.9" fill="#4e2a90"/>
<polygon points="65.3,0.2 68.9,-0.5 69.7,2.4 66.3,4.1" fill="#5a2c9c"/>
<polygon points="39.0,61.6 43.4,58.2 42.5,65.8" fill="#2a7a6a"/>
<polygon points="67.2,21.8 69.1,20.5 71.1,22.0 68.4,24.5" fill="#2a9a52"/>
<polygon points="2.3,25.0 4.1,24.8 4.2,28.8 2.4,28.1" fill="#5a2c9c"/>
<polygon points="9.7,6.4 5.2,1.5 9.7,0.0" fill="#4e2a90"/>
<polygon points="94.6,-1.0 95.6,-4.7 99.0,-1.7" fill="#239048"/>
<polygon points="76.7,24.1 74.1,24.6 72.9,21.6 76.4,21.1" fill="#239048"/>
<polygon points="85.3,9.0 88.4,14.5 83.8,16.4 81.8,9.3" fill="#2a9a52"/>
<polygon points="38.8,3.3 42.2,5.4 41.6,8.2 38.5,7.1" fill="#2a9a52"/>
<polygon points="55.6,62.2 55.1,64.4 52.6,64.4 52.4,60.1" fill="#2a9a52"/>
<polygon points="6.5,6.1 8.9,7.0 7.4,12.1 5.0,8.5" fill="#4e2a90"/>
<polygon points="63.5,35.5 61.4,37.5 60.2,33.6 63.1,33.3" fill="#239048"/>
<polygon points="9.1,34.5 5.4,37.2 3.8,34.5 6.1,31.1" fill="#2a9a52"/>
<polygon points="22.4,26.3 27.3,28.5 24.8,32.7 21.7,31.3" fill="#5a2c9c"/>
<polygon points="92.0,10.0 90.7,3.7 96.4,2.9 96.0,8.6" fill="#4e2a90"/>
<polygon points="36.0,19.0 36.8,13.9 42.1,19.5" fill="#5a2c9c"/>
<polygon points="66.5,69.8 69.7,68.0 70.5,72.3" fill="#239048"/>
<polygon points="81.2,49.2 79.4,43.9 85.7,44.7" fill="#5a2c9c"/>
<polygon points="60.8,32.6 60.7,26.6 64.7,26.5" fill="#2a9a52"/>
<polygon points="60.5,26.7 62.9,23.5 63.6,27.2" fill="#2a9a52"/>
<polygon points="33.7,49.3 33.9,53.8 30.3,52.4" fill="#2a7a6a"/>
<polygon points="58.1,65.1 63.4,66.1 61.6,69.3 57.1,68.2" fill="#5a2c9c"/>
<polygon points="97.1,36.5 98.8,41.0 93.0,41.1 91.6,37.6" fill="#5a2c9c"/>
<polygon points="8.0,56.6 5.1,62.0 1.5,60.0 3.6,55.5" fill="#2a9a52"/>
<polygon points="63.4,55.2 68.9,53.3 70.8,57.8 64.6,58.5" fill="#4e2a90"/>
<polygon points="29.3,11.6 26.3,9.2 28.6,5.7 31.8,7.4" fill="#2a7a6a"/>
<polygon points="50.0,35.0 54.9,32.3 56.6,37.7" fill="#2a9a52"/>
<polygon points="86.9,70.6 87.1,66.5 89.2,67.8 89.6,70.3" fill="#4e2a90"/>
<polygon points="68.2,14.4 73.4,15.4 69.8,18.6" fill="#4e2a90"/>
<polygon points="58.4,60.8 63.9,58.0 63.8,64.4" fill="#2a9a52"/>
<polygon points="62.9,21.5 62.7,25.8 58.6,25.3 58.3,22.9" fill="#2a9a52"/>
<polygon points="40.6,68.0 43.6,69.1 40.4,71.4" fill="#2a7a6a"/>
<polygon points="65.0,48.1 70.5,42.5 70.2,48.5" fill="#5a2c9c"/>
<polygon points="14.0,12.3 7.2,14.7 6.3,9.5 11.5,8.2" fill="#2a9a52"/>
<polygon points="55.9,-0.8 58.1,-2.9 59.3,0.2" fill="#2a9a52"/>
<polygon points="89.8,59.3 85.1,61.4 85.9,55.8" fill="#5a2c9c"/>
<polygon points="38.6,62.3 41.5,65.4 38.4,68.5 34.9,66.2" fill="#2a7a6a"/>
<polygon points="59.2,17.0 59.1,13.6 61.7,14.3 62.0,17.6" fill="#239048"/>
<polygon points="6.5,5.5 8.6,4.0 12.0,5.8 9.3,8.9" fill="#2a9a52"/>
<polygon points="53.5,64.4 49.6,66.6 46.7,61.6 50.8,59.0" fill="#2a9a52"/>
<polygon points="57.3,4.3 57.8,0.7 61.8,1.6 59.9,4.1" fill="#4e2a90"/>
<polygon points="71.7,43.9 71.5,40.4 77.6,41.7 76.4,45.5" fill="#2a9a52"/>
<polygon points="48.6,71.3 44.1,75.0 44.1,70.4" fill="#2a9a52"/>
<polygon points="61.8,34.2 57.7,33.0 62.0,30.1" fill="#2a9a52"/>
<polygon points="35.9,58.3 30.9,54.0 33.9,51.7 37.8,54.8" fill="#2a9a52"/>
<polygon points="54.2,45.7 59.7,43.0 59.7,48.1" fill="#2a9a52"/>
<polygon points="2.4,2.3 -0.5,2.5 -0.8,0.0 1.7,-1.3" fill="#2a9a52"/>
<polygon points="80.3,1.3 83.8,1.4 83.5,6.4 78.4,6.4" fill="#2a9a52"/>
<polygon points="28.0,38.4 32.1,37.1 33.7,41.7 28.8,43.1" fill="#2a9a52"/>
<polygon points="-1.3,18.0 2.1,21.1 -0.9,25.2 -3.9,21.7" fill="#2a9a52"/>
<polygon points="59.9,66.4 56.4,69.8 55.3,66.7 57.9,64.5" fill="#239048"/>
<polygon points="62.6,40.7 65.7,38.5 68.2,44.0 66.1,45.9" fill="#2a9a52"/>
<polygon points="51.0,40.3 52.3,38.7 53.7,42.0 51.8,42.7" fill="#2a9a52"/>
<polygon points="74.7,45.5 73.2,50.7 70.4,46.6" fill="#2a9a52"/>
<polygon points="48.7,56.4 47.9,62.3 43.4,58.3" fill="#2a9a52"/>
<polygon points="59.8,40.0 63.1,35.5 64.2,38.4" fill="#2a9a52"/>
<polygon points="42.5,22.4 39.7,21.9 38.4,18.5 42.1,19.3" fill="#2a9a52"/>
<polygon points="5.9,12.5 10.6,9.7 10.3,15.6" fill="#2a9a52"/>
<polygon points="56.2,70.4 60.8,65.5 64.6,67.8 61.2,72.5" fill="#2a7a6a"/>
<polygon points="14.6,61.4 8.8,62.0 8.7,57.7 12.7,54.7" fill="#2a7a6a"/>
<polygon points="39.9,52.5 42.8,58.3 39.5,60.5 36.6,56.3" fill="#2a9a52"/>
<polygon points="87.2,7.1 91.6,9.0 88.6,11.8" fill="#2a9a52"/>
<polygon points="48.1,-2.8 50.2,-2.1 49.8,2.1 46.5,-0.4" fill="#2a9a52"/>
<polygon points="36.9,38.4 41.9,40.6 36.3,42.1" fill="#4e2a90"/>
<polygon points="1.1,29.1 -3.6,26.8 0.2,24.9" fill="#4e2a90"/>
<polygon points="58.0,69.2 61.4,66.8 63.6,69.8 59.6,72.7" fill="#239048"/>
<polygon points="44.2,29.1 40.7,28.1 43.6,23.7" fill="#2a9a52"/>
<polygon points="9.9,2.3 6.7,3.1 5.5,-1.6 8.9,-1.8" fill="#2a9a52"/>
<polygon points="40.7,-4.6 42.6,-1.3 38.7,3.3 35.7,-0.6" fill="#5a2c9c"/>
<polygon points="46.9,57.8 50.8,56.3 49.4,59.9" fill="#2a9a52"/>
<polygon points="93.0,76.0 88.0,73.0 93.5,70.6" fill="#2a9a52"/>
<polygon points="35.6,36.7 31.1,35.6 30.4,30.3 38.4,31.8" fill="#2a9a52"/>
<polygon points="55.8,9.1 55.1,5.8 60.7,5.5 61.2,9.6" fill="#2a9a52"/>
<polygon points="93.9,71.8 93.9,76.5 89.9,76.9 87.7,73.1" fill="#2a9a52"/>
<polygon points="7.3,28.1 11.3,26.6 11.0,31.8" fill="#5a2c9c"/>
<polygon points="54.2,32.5 58.6,30.6 61.5,33.2 57.2,37.0" fill="#5a2c9c"/>
<polygon points="49.2,34.1 47.3,30.2 52.7,27.0 53.1,32.6" fill="#2a9a52"/>
<polygon points="84.0,18.9 78.9,17.3 84.0,13.1" fill="#5a2c9c"/>
<polygon points="72.3,66.9 69.6,65.9 69.9,62.2 74.1,63.5" fill="#5a2c9c"/>
<polygon points="45.7,22.5 41.6,22.1 43.2,18.6" fill="#239048"/>
<polygon points="4.0,66.2 2.7,68.3 -2.5,66.6 -1.0,63.5" fill="#239048"/>
<polygon points="32.4,37.6 31.2,32.5 37.0,32.6" fill="#2a9a52"/>
<polygon points="27.6,28.9 27.0,32.3 22.8,30.5 23.7,27.8" fill="#2a9a52"/>
<polygon points="65.6,61.8 62.2,56.7 66.4,56.9" fill="#5a2c9c"/>
<polygon points="98.7,32.4 94.3,34.3 94.9,29.3" fill="#2a7a6a"/>
<polygon points="75.2,16.3 74.0,19.3 70.8,15.8" fill="#239048"/>
<polygon points="46.0,12.7 48.4,8.9 50.8,12.5 48.2,14.4" fill="#2a7a6a"/>
<polygon points="71.5,6.1 77.4,5.0 75.9,10.3" fill="#5a2c9c"/>
<polygon points="59.5,15.8 60.2,20.2 55.5,17.3" fill="#2a9a52"/>
<polygon points="20.5,56.8 26.2,56.6 24.9,61.2" fill="#2a9a52"/>
<polygon points="26.1,44.8 29.1,42.4 33.1,45.2 29.2,48.5" fill="#2a7a6a"/>
<polygon points="29.8,31.7 31.2,35.0 28.0,33.6" fill="#2a9a52"/>
<polygon points="35.2,37.3 38.9,34.6 42.1,38.6 39.8,40.1" fill="#2a9a52"/>
<polygon points="81.3,31.5 81.6,28.2 85.5,30.1" fill="#2a9a52"/>
<polygon points="35.0,48.8 34.7,53.2 28.9,53.2 31.7,47.3" fill="#2a9a52"/>
<polygon points="41.4,43.5 38.7,45.6 35.1,44.3 37.6,40.7" fill="#239048"/>
<polygon points="-1.9,10.3 1.7,9.0 0.8,14.0 -2.6,14.5" fill="#239048"/>
<polygon points="11.5,71.9 11.0,75.0 8.7,75.2 8.4,73.1" fill="#5a2c9c"/>
<polygon points="54.4,0.5 57.8,-2.7 59.5,1.3 57.4,2.8" fill="#239048"/>
<polygon points="69.0,30.8 67.6,29.0 70.2,26.5 72.0,30.3" fill="#5a2c9c"/>
<polygon points="30.5,49.0 28.2,51.3 25.0,50.0 26.0,46.6" fill="#2a9a52"/>
<polygon points="29.3,36.9 30.9,33.9 32.9,36.0" fill="#239048"/>
<polygon points="43.2,9.6 40.9,12.5 37.1,10.1 40.9,6.3" fill="#239048"/>
<polygon points="32.4,15.9 30.6,19.4 27.9,16.3" fill="#2a9a52"/>
<polygon points="91.2,23.7 96.8,23.9 92.0,28.1" fill="#2a9a52"/>
<polygon points="87.2,1.9 87.0,-0.0 90.6,-0.5 91.5,1.7" fill="#2a9a52"/>
<polygon points="34.2,13.8 39.4,14.2 36.9,18.9" fill="#4e2a90"/>
<polygon points="71.2,53.9 66.4,50.8 70.8,47.0" fill="#2a9a52"/>
<polygon points="52.3,17.8 50.1,17.4 49.4,13.9 53.2,14.3" fill="#2a9a52"/>
<polygon points="78.8,35.0 73.4,37.3 72.6,33.1 76.8,31.7" fill="#2a9a52"/>
<polygon points="32.9,58.0 30.1,58.0 29.6,53.6 34.6,53.2" fill="#2a9a52"/>
<polygon points="42.4,51.9 44.5,46.6 47.5,47.9 46.9,52.3" fill="#2a9a52"/>
<polygon points="29.1,54.1 26.5,55.9 23.7,52.3 26.6,51.1" fill="#2a9a52"/>
<polygon points="59.8,53.8 63.0,58.0 57.1,57.3" fill="#5a2c9c"/>
<polygon points="11.4,24.8 8.1,24.9 8.2,20.8 11.2,20.7" fill="#2a9a52"/>
<polygon points="85.4,21.0 88.8,19.8 89.0,23.6" fill="#2a9a52"/>
<polygon points="40.8,2.1 38.9,5.1 35.6,2.8 36.2,0.9" fill="#2a7a6a"/>
<polygon points="9.0,5.9 6.5,1.0 12.8,1.9" fill="#5a2c9c"/>
<polygon points="76.2,57.2 80.3,55.3 82.0,58.8 78.6,61.4" fill="#4e2a90"/>
<polygon points="60.0,-3.5 62.4,0.6 58.7,0.2" fill="#2a9a52"/>
<polygon points="3.8,44.8 7.6,47.6 5.3,49.5 2.4,48.4" fill="#2a9a52"/>
<polygon points="39.5,1.8 38.6,-3.5 44.1,-2.0" fill="#2a7a6a"/>
<polygon points="9.9,77.1 5.9,74.5 8.6,68.3 11.7,72.1" fill="#5a2c9c"/>
<polygon points="36.7,74.6 32.5,77.1 29.2,71.9 35.5,71.0" fill="#2a9a52"/>
<polygon points="70.1,56.9 70.1,52.4 73.2,51.9 73.9,56.6" fill="#5a2c9c"/>
<polygon points="57.2,70.9 54.8,68.8 56.4,65.7 60.6,69.6" fill="#2a9a52"/>
<polygon points="6.8,11.1 12.1,9.8 11.6,15.4" fill="#2a9a52"/>
<polygon points="45.4,37.8 42.6,42.0 42.4,36.8" fill="#5a2c9c"/>
<polygon points="49.4,4.2 44.9,3.6 50.4,-0.8" fill="#2a7a6a"/>
<polygon points="8.4,9.5 12.6,12.0 8.4,15.9" fill="#5a2c9c"/>
<polygon points="69.9,15.0 68.8,12.2 71.8,11.7 73.0,13.6" fill="#5a2c9c"/>
<polygon points="42.1,6.2 48.3,5.9 46.8,10.4 42.9,10.8" fill="#2a9a52"/>
<polygon points="9.8,48.0 11.9,42.9 15.3,44.8 14.1,48.6" fill="#5a2c9c"/>
<polygon points="83.1,20.6 84.3,17.3 87.4,19.2 85.5,22.4" fill="#2a9a52"/>
<polygon points="22.9,49.9 24.2,46.6 27.2,48.1" fill="#2a9a52"/>
<polygon points="77.9,7.4 72.2,8.9 70.8,4.1 76.9,4.4" fill="#2a9a52"/>
<polygon points="59.7,36.2 60.4,30.1 63.9,34.4" fill="#5a2c9c"/>
<polygon points="78.7,48.1 81.0,44.7 82.5,48.5" fill="#2a9a52"/>
<polygon points="10.9,25.7 14.9,27.2 10.8,30.2" fill="#2a9a52"/>
<polygon points="12.5,33.5 11.6,36.8 7.4,34.5 9.6,30.5" fill="#2a9a52"/>
<polygon points="45.8,7.7 50.0,4.3 50.7,11.1" fill="#2a9a52"/>
<polygon points="59.0,10.1 58.8,12.3 55.4,12.8 56.2,8.5" fill="#2a9a52"/>
<polygon points="11.9,62.9 6.7,62.3 10.2,57.1" fill="#2a9a52"/>
<polygon points="91.2,39.9 87.4,41.0 86.5,37.9 91.7,36.9" fill="#2a9a52"/>
<polygon points="54.3,38.6 51.2,36.9 54.8,32.7 57.2,36.0" fill="#2a9a52"/>
<polygon points="27.6,40.1 27.3,36.4 31.1,36.9 30.4,41.1" fill="#2a9a52"/>
<polygon points="-3.0,32.6 -2.0,25.1 2.6,28.6" fill="#2a9a52"/>
<polygon points="5.3,12.6 2.1,13.3 2.3,10.5 4.5,9.8" fill="#2a9a52"/>
<polygon points="8.0,73.9 4.7,74.7 5.4,71.2 7.5,71.5" fill="#239048"/>
<polygon points="28.4,53.5 34.8,49.4 34.1,54.1" fill="#2a9a52"/>
<polygon points="62.6,8.8 66.2,4.3 70.2,6.8 67.2,12.4" fill="#4e2a90"/>
<polygon points="38.9,54.1 35.3,49.0 40.9,48.9" fill="#2a7a6a"/>
<polygon points="4.3,29.2 1.2,34.6 -2.4,29.8" fill="#5a2c9c"/>
<polygon points="16.4,44.7 12.2,42.5 16.3,39.9" fill="#2a9a52"/>
<polygon points="32.7,40.5 36.5,42.0 34.8,44.0 31.4,42.5" fill="#4e2a90"/>
<polygon points="72.7,28.8 70.8,35.1 66.4,30.4" fill="#2a9a52"/>
<polygon points="81.8,4.4 81.6,-2.7 86.1,-0.5" fill="#5a2c9c"/>
<polygon points="20.3,10.4 22.1,14.2 19.9,16.0 18.0,12.6" fill="#2a7a6a"/>
<polygon points="85.8,53.6 82.8,55.1 82.2,51.4" fill="#239048"/>
<polygon points="26.4,23.8 21.6,19.5 27.5,16.8" fill="#239048"/>
<polygon points="66.1,66.7 65.2,69.5 61.9,69.0 63.9,65.8" fill="#239048"/>
<polygon points="56.6,28.0 51.1,27.5 54.0,20.7" fill="#2a9a52"/>
<polygon points="12.3,74.5 9.9,76.9 7.1,70.4 12.6,69.9" fill="#239048"/>
<polygon points="49.4,1.3 51.6,4.6 49.4,5.5" fill="#2a7a6a"/>
<polygon points="66.9,2.7 66.3,-2.4 70.1,0.7" fill="#2a7a6a"/>
<polygon points="88.1,69.2 84.3,71.8 81.2,68.5 84.7,66.6" fill="#2a9a52"/>
<polygon points="29.1,19.2 29.8,22.1 26.8,21.9 25.4,20.5" fill="#2a9a52"/>
<polygon points="94.9,64.3 93.0,60.2 96.9,59.4 97.4,63.1" fill="#5a2c9c"/>
<polygon points="21.4,67.7 19.7,64.3 23.2,64.3" fill="#2a9a52"/>
<polygon points="52.9,18.6 49.1,18.8 49.7,15.5" fill="#2a9a52"/>
<polygon points="64.2,36.1 67.3,34.9 66.2,39.0" fill="#4e2a90"/>
<polygon points="39.7,52.9 37.1,48.7 40.4,44.3 42.1,47.4" fill="#2a9a52"/>
<polygon points="94.4,31.8 91.8,30.6 93.9,27.8" fill="#2a9a52"/>
<polygon points="29.2,5.2 27.4,-0.4 33.7,-0.4" fill="#2a9a52"/>
<polygon points="15.4,66.2 10.8,66.9 11.0,61.5 15.0,62.7" fill="#2a9a52"/>
<polygon points="11.2,48.4 6.7,52.3 5.7,45.3" fill="#2a9a52"/>
<polygon points="47.7,63.8 48.7,69.1 45.6,69.4 44.4,64.8" fill="#4e2a90"/>
<polygon points="12.1,11.4 13.8,9.8 15.8,11.9" fill="#2a9a52"/>
<polygon points="94.7,26.1 91.9,24.5 95.5,20.5 97.9,23.8" fill="#2a7a6a"/>
<polygon points="95.2,34.7 92.7,37.8 90.6,35.4 93.6,32.9" fill="#2a9a52"/>
<polygon points="4.8,49.3 7.4,48.1 10.3,50.2 7.6,53.5" fill="#5a2c9c"/>
<polygon points="46.1,5.9 43.3,6.4 42.3,3.7 45.3,3.8" fill="#4e2a90"/>
<polygon points="20.7,46.2 17.3,48.5 15.2,44.9 19.4,43.9" fill="#2a9a52"/>
<polygon points="68.7,28.5 68.2,34.2 64.1,31.8" fill="#239048"/>
<polygon points="21.1,65.6 25.7,66.8 23.0,70.1 20.8,69.8" fill="#2a9a52"/>
<polygon points="35.3,14.6 40.8,17.0 36.6,20.2" fill="#239048"/>
<polygon points="50.2,70.0 45.8,70.5 45.0,67.4 47.3,65.1" fill="#2a9a52"/>
<polygon points="48.2,48.6 44.8,53.3 41.2,50.5 44.7,46.7" fill="#2a9a52"/>
<polygon points="32.4,20.3 29.8,20.7 28.9,18.1 32.3,17.4" fill="#2a7a6a"/>
<polygon points="40.6,23.2 38.8,26.1 34.3,25.1 36.2,21.5" fill="#5a2c9c"/>
<polygon points="65.1,57.7 63.8,53.1 68.8,54.9 67.0,59.5" fill="#2a7a6a"/>
<polygon points="54.1,69.9 57.4,65.0 57.6,71.2" fill="#239048"/>
<polygon points="2.0,17.8 7.3,16.2 6.0,22.0" fill="#4e2a90"/>
<polygon points="4.1,43.1 7.0,37.6 9.2,41.4" fill="#2a9a52"/>
<polygon points="74.9,74.2 70.2,75.2 72.0,70.9" fill="#5a2c9c"/>
<polygon points="-0.2,3.4 2.6,3.8 2.0,7.5 -0.3,7.1" fill="#239048"/>
<polygon points="63.5,40.6 58.6,43.1 58.3,37.2 61.3,36.8" fill="#5a2c9c"/>
<polygon points="56.4,5.0 57.4,2.9 60.2,3.0 59.8,6.3" fill="#5a2c9c"/>
<polygon points="5.9,42.4 4.5,44.3 1.8,43.1 3.6,40.7" fill="#2a9a52"/>
<polygon points="-1.7,54.1 2.2,53.1 -0.0,57.9" fill="#5a2c9c"/>
<polygon points="29.1,59.9 25.8,60.4 26.1,57.3" fill="#5a2c9c"/>
<polygon points="4.3,-3.9 5.2,1.3 0.4,-0.1" fill="#2a7a6a"/>
<polygon points="66.0,10.5 63.1,11.1 62.5,8.0" fill="#239048"/>
<polygon points="56.0,46.5 58.2,48.6 56.9,50.6 53.6,49.5" fill="#239048"/>
<polygon points="52.1,42.8 58.5,44.1 54.0,46.5" fill="#5a2c9c"/>
<polygon points="14.7,40.2 18.4,43.1 17.1,45.1 14.3,43.2" fill="#2a9a52"/>
<polygon points="70.3,3.2 65.5,4.4 66.6,1.4" fill="#2a7a6a"/>
<polygon points="0.8,52.3 -1.5,51.6 -1.4,50.0 1.5,48.8" fill="#2a9a52"/>
<polygon points="29.5,0.7 25.9,1.3 26.1,-3.0 31.3,-1.5" fill="#5a2c9c"/>
<polygon points="75.9,33.5 77.6,29.0 80.8,33.6" fill="#2a7a6a"/>
<polygon points="21.1,-2.0 22.9,-0.2 19.2,1.6 18.3,-1.3" fill="#239048"/>
<polygon points="47.6,29.4 43.1,31.2 42.7,24.6" fill="#2a7a6a"/>
<polygon points="51.2,23.6 48.8,25.0 47.1,19.9 51.9,17.4" fill="#239048"/>
<polygon points="41.0,53.9 43.1,57.7 38.9,56.8" fill="#2a9a52"/>
<polygon points="92.7,43.6 90.4,47.4 88.0,42.1" fill="#2a9a52"/>
<polygon points="99.6,11.9 94.1,14.3 94.3,9.7" fill="#2a9a52"/>
<polygon points="44.8,68.1 49.0,69.1 44.6,73.9 41.5,69.8" fill="#5a2c9c"/>
<polygon points="39.4,48.0 36.8,49.6 33.2,47.2 37.3,43.3" fill="#5a2c9c"/>
<polygon points="67.0,8.1 63.7,9.1 60.8,7.2 65.2,4.6" fill="#5a2c9c"/>
<polygon points="9.9,42.4 13.6,40.8 13.6,45.1" fill="#2a9a52"/>
<polygon points="86.5,-2.0 86.7,2.8 83.7,3.9 82.3,-0.1" fill="#2a9a52"/>
<polygon points="3.7,1.4 0.3,0.8 0.8,-1.5" fill="#5a2c9c"/>
<polygon points="19.4,8.8 14.6,6.8 18.9,3.9" fill="#2a9a52"/>
<polygon points="36.4,36.9 35.9,32.1 39.8,34.2" fill="#2a9a52"/>
<polygon points="14.4,27.4 7.7,29.5 10.7,22.6" fill="#5a2c9c"/>
<polygon points="19.3,28.1 17.1,30.2 13.9,27.3 16.4,25.2" fill="#5a2c9c"/>
<polygon points="95.2,62.8 99.3,59.9 98.8,63.6" fill="#239048"/>
<polygon points="94.4,25.1 96.1,29.8 91.7,29.6 90.7,25.6" fill="#239048"/>
<polygon points="69.1,7.2 70.4,2.9 73.9,6.9 72.0,9.8" fill="#2a9a52"/>
<polygon points="65.4,15.9 68.3,18.2 65.4,21.5 62.9,19.5" fill="#2a7a6a"/>
<polygon points="66.3,27.8 68.6,29.5 64.7,33.2" fill="#2a9a52"/>
<polygon points="65.4,38.4 68.9,39.5 66.1,41.5" fill="#5a2c9c"/>
<polygon points="5.6,49.4 9.6,51.3 7.2,54.0" fill="#5a2c9c"/>
<polygon points="33.1,31.9 30.2,34.6 28.6,31.6 30.0,28.8" fill="#239048"/>
<polygon points="63.7,72.6 68.4,71.5 67.7,75.6" fill="#239048"/>
<polygon points="36.6,74.3 34.1,76.2 31.6,75.0 33.4,71.4" fill="#2a9a52"/>
<polygon points="33.8,68.4 39.1,64.2 39.7,69.5" fill="#2a9a52"/>
<polygon points="18.3,36.1 16.8,31.3 21.6,29.0 22.2,35.2" fill="#2a9a52"/>
<polygon points="17.7,4.7 16.6,-0.4 18.9,-1.4 20.8,1.6" fill="#2a9a52"/>
<polygon points="37.5,67.1 41.0,66.8 40.3,70.4" fill="#2a9a52"/>
<polygon points="74.5,54.2 73.5,58.5 69.6,57.6 71.9,52.2" fill="#5a2c9c"/>
<polygon points="17.3,1.5 20.0,4.9 15.4,5.3" fill="#2a9a52"/>
<polygon points="41.5,49.1 36.5,49.3 37.0,45.1 40.8,44.2" fill="#5a2c9c"/>
<polygon points="1.8,30.0 -0.9,25.1 5.2,27.5" fill="#2a9a52"/>
<polygon points="21.7,58.1 21.6,52.8 27.5,55.5" fill="#2a9a52"/>
<polygon points="3.5,47.7 -0.2,47.7 -0.9,44.9 2.0,45.2" fill="#5a2c9c"/>
<polygon points="40.6,22.5 43.4,24.6 40.8,28.2 37.6,24.8" fill="#2a9a52"/>
<polygon points="63.6,20.5 60.9,24.8 56.8,21.1 58.8,17.4" fill="#5a2c9c"/>
<polygon points="50.7,47.9 51.6,53.9 47.7,54.3" fill="#4e2a90"/>
<polygon points="55.2,42.1 59.1,48.0 52.8,47.3" fill="#5a2c9c"/>
<polygon points="73.7,41.4 76.3,40.8 76.3,45.2 72.6,44.3" fill="#2a9a52"/>
<polygon points="44.0,71.1 47.0,67.2 50.2,70.5 47.1,73.9" fill="#2a9a52"/>
<polygon points="42.6,68.8 37.6,67.7 42.1,64.8" fill="#2a9a52"/>
<polygon points="47.4,33.5 44.0,35.8 40.8,34.4 43.8,30.6" fill="#5a2c9c"/>
<polygon points="86.9,50.5 85.3,48.5 88.7,47.3 89.0,49.1" fill="#2a9a52"/>
<polygon points="-0.7,53.5 2.6,58.4 -3.4,56.4" fill="#2a9a52"/>
<polygon points="41.8,29.1 39.8,22.2 45.9,24.7" fill="#4e2a90"/>
<polygon points="98.9,10.8 97.6,15.3 94.0,12.0" fill="#2a9a52"/>
<polygon points="3.2,22.3 0.3,22.8 -0.9,19.1 2.8,17.7" fill="#239048"/>
<polygon points="25.2,18.1 28.3,14.7 31.2,19.8 27.9,21.0" fill="#239048"/>
<polygon points="72.1,8.2 76.2,7.3 74.5,13.2" fill="#2a9a52"/>
<polygon points="38.2,58.3 40.4,63.7 35.5,62.4" fill="#4e2a90"/>
<polygon points="45.9,35.4 45.1,42.1 41.8,39.4" fill="#2a7a6a"/>
<polygon points="55.1,62.4 58.4,68.8 52.4,68.7" fill="#239048"/>
<polygon points="33.0,50.4 36.7,48.8 37.6,52.2" fill="#239048"/>
<polygon points="13.0,43.3 13.9,40.5 17.1,41.2 16.0,44.2" fill="#5a2c9c"/>
<polygon points="92.0,72.0 88.7,67.5 93.9,65.8" fill="#2a7a6a"/>
<polygon points="13.4,69.9 8.9,69.4 11.1,66.2" fill="#2a9a52"/>
<polygon points="53.1,4.7 57.1,4.7 57.7,10.3 53.9,9.6" fill="#5a2c9c"/>
<polygon points="4.6,53.5 0.3,52.9 -1.7,50.9 3.4,48.0" fill="#5a2c9c"/>
<polygon points="95.3,33.6 95.3,28.8 99.7,30.2 99.8,33.5" fill="#2a9a52"/>
<polygon points="64.9,40.9 65.4,37.9 68.2,41.0" fill="#2a9a52"/>
<polygon points="64.5,1.6 64.1,-2.0 68.4,-3.1 68.0,1.9" fill="#2a9a52"/>
<polygon points="76.8,69.1 81.3,69.0 82.4,72.0 77.2,73.9" fill="#4e2a90"/>
<polygon points="48.0,11.7 47.2,15.5 44.6,11.2" fill="#2a9a52"/>
<polygon points="24.3,47.4 27.9,50.1 25.3,54.2 22.5,50.4" fill="#2a9a52"/>
<polygon points="32.4,35.6 32.6,39.1 27.7,39.7 28.5,35.4" fill="#5a2c9c"/>
<polygon points="98.9,10.3 95.3,9.0 95.7,7.0 99.3,6.8" fill="#239048"/>
<polygon points="9.1,71.9 10.3,70.4 13.1,70.4 12.5,73.9" fill="#2a7a6a"/>
<polygon points="92.7,43.9 92.7,38.5 97.8,38.7 98.1,43.6" fill="#2a9a52"/>
<polygon points="77.8,9.5 78.6,5.8 83.1,8.2 82.0,10.3" fill="#4e2a90"/>
<polygon points="72.3,59.7 72.0,62.7 68.9,64.1 68.5,60.2" fill="#2a9a52"/>
<polygon points="9.4,72.3 7.7,77.1 5.1,72.8" fill="#4e2a90"/>
<polygon points="-3.5,64.2 -1.8,60.5 2.3,60.7 1.8,65.0" fill="#2a9a52"/>
<polygon points="51.1,15.2 50.9,18.7 47.5,16.3" fill="#2a9a52"/>
<polygon points="19.8,38.0 18.4,34.4 21.3,34.8" fill="#5a2c9c"/>
<polygon points="41.3,46.8 40.0,42.7 43.7,43.4" fill="#2a9a52"/>
<polygon points="80.8,14.9 82.6,17.1 81.0,20.7 78.2,18.6" fill="#2a7a6a"/>
<polygon points="65.7,28.0 69.1,29.9 67.5,31.7" fill="#2a9a52"/>
<polygon points="51.5,75.8 52.4,70.5 56.5,72.9" fill="#2a9a52"/>
<polygon points="-2.1,19.2 -2.3,15.3 3.5,15.8 2.6,19.2" fill="#2a9a52"/>
<polygon points="68.9,62.0 69.8,59.6 74.0,60.8 71.9,62.9" fill="#5a2c9c"/>
<polygon points="78.1,62.7 75.4,69.0 70.1,64.0" fill="#239048"/>
<polygon points="71.1,35.3 75.3,31.2 75.7,36.3" fill="#2a9a52"/>
<polygon points="46.1,3.6 41.5,4.8 45.0,-0.8" fill="#2a9a52"/>
<polygon points="89.0,47.0 88.6,43.6 91.3,44.4" fill="#2a7a6a"/>
<polygon points="33.1,64.3 30.2,60.8 34.5,60.7" fill="#2a7a6a"/>
<polygon points="29.7,11.6 34.5,8.8 35.7,12.7 32.0,15.5" fill="#2a9a52"/>
<polygon points="1.2,55.8 3.3,58.0 -0.5,62.5 -2.0,58.3" fill="#2a9a52"/>
<polygon points="83.8,-3.0 88.9,-3.1 86.1,1.9" fill="#2a9a52"/>
<polygon points="67.3,15.5 70.4,12.3 72.3,16.9" fill="#2a9a52"/>
<polygon points="51.0,40.2 52.6,38.0 55.8,39.2 55.3,42.1" fill="#2a9a52"/>
<polygon points="4.9,13.8 8.8,15.4 5.0,17.1" fill="#239048"/>
<polygon points="42.9,8.7 46.4,6.4 48.5,8.6 45.3,11.3" fill="#2a7a6a"/>
<polygon points="75.9,37.6 72.3,36.0 75.0,33.5" fill="#2a7a6a"/>
<polygon points="25.6,54.4 28.8,50.7 34.1,54.0 29.8,58.0" fill="#2a9a52"/>
<polygon points="44.6,56.6 43.0,51.9 47.2,50.6 47.1,55.2" fill="#2a9a52"/>
<polygon points="85.4,-3.7 85.7,-1.3 82.9,0.5 81.8,-3.0" fill="#2a9a52"/>
<polygon points="0.5,41.0 -1.5,43.4 -3.6,40.4 -2.1,38.6" fill="#5a2c9c"/>
<polygon points="44.4,12.0 44.2,16.6 40.7,16.2 40.7,11.3" fill="#2a9a52"/>
<polygon points="33.2,33.6 31.1,30.0 33.9,27.6 37.4,31.2" fill="#5a2c9c"/>
<polygon points="56.3,72.5 50.7,70.0 55.6,67.3" fill="#2a9a52"/>
<polygon points="10.5,33.4 7.1,34.7 6.8,31.8 9.9,31.3" fill="#2a9a52"/>
<polygon points="20.3,27.7 22.7,23.7 23.9,27.0" fill="#4e2a90"/>
<polygon points="59.3,5.6 55.2,1.9 58.2,-1.9 62.6,1.6" fill="#5a2c9c"/>
<polygon points="18.5,4.2 13.8,5.6 15.0,2.5" fill="#2a9a52"/>
<polygon points="84.7,43.3 82.1,40.8 84.0,36.1 86.5,38.5" fill="#2a9a52"/>
<polygon points="62.3,15.3 62.7,18.8 59.7,19.3 57.4,15.4" fill="#2a9a52"/>
<polygon points="68.1,26.0 62.8,23.6 65.9,18.5 69.3,22.4" fill="#2a7a6a"/>
<polygon points="27.6,39.4 27.7,35.1 31.9,35.2 32.4,38.6" fill="#2a7a6a"/>
<polygon points="54.3,63.2 59.1,68.1 52.0,67.8" fill="#5a2c9c"/>
<polygon points="18.4,40.1 13.9,41.3 14.3,37.5" fill="#4e2a90"/>
<polygon points="47.5,13.3 52.1,12.5 53.3,16.8 48.1,17.9" fill="#2a9a52"/>
<polygon points="99.8,61.8 94.7,63.2 95.8,57.2" fill="#2a7a6a"/>
<polygon points="14.4,68.9 13.7,64.0 18.3,66.8" fill="#2a9a52"/>
<polygon points="70.6,74.4 67.1,71.9 70.9,69.3 73.4,73.3" fill="#4e2a90"/>
<polygon points="52.7,61.9 49.1,56.7 55.6,57.8" fill="#2a9a52"/>
<polygon points="81.5,65.0 76.7,59.3 83.3,58.8" fill="#2a9a52"/>
<polygon points="95.9,39.3 99.3,42.4 96.9,47.6 92.4,43.0" fill="#5a2c9c"/>
<polygon points="3.2,66.9 4.3,71.0 0.6,70.8" fill="#4e2a90"/>
<polygon points="31.3,43.4 31.8,39.7 34.4,40.3 35.1,43.9" fill="#2a9a52"/>
<polygon points="94.4,51.3 100.5,53.9 95.4,57.4" fill="#2a9a52"/>
<polygon points="34.2,8.2 35.2,12.0 32.1,11.7" fill="#5a2c9c"/>
<polygon points="23.1,28.6 24.3,25.2 27.3,27.4 25.0,28.8" fill="#4e2a90"/>
<polygon points="68.9,4.4 68.3,-1.6 74.1,0.9" fill="#2a9a52"/>
<polygon points="83.4,20.7 85.0,24.8 80.9,24.1" fill="#5a2c9c"/>
<polygon points="69.9,65.2 66.5,61.3 72.4,60.9" fill="#2a9a52"/>
<polygon points="63.4,66.0 68.6,68.3 64.3,70.4" fill="#4e2a90"/>
<polygon points="63.7,-1.0 69.3,-2.4 68.5,3.3" fill="#2a9a52"/>
<polygon points="14.1,17.2 12.1,19.8 9.1,19.2 10.6,16.6" fill="#2a9a52"/>
<polygon points="23.8,21.3 20.8,25.1 18.6,21.8 22.1,19.0" fill="#239048"/>
<polygon points="6.8,33.1 7.1,28.5 10.8,31.3" fill="#5a2c9c"/>
<polygon points="22.2,48.6 26.5,52.9 22.1,56.7 18.1,52.1" fill="#2a9a52"/>
<polygon points="12.8,63.9 17.6,67.9 13.1,68.7" fill="#2a9a52"/>
<polygon points="42.5,12.8 38.3,13.8 37.2,10.3 39.9,8.8" fill="#2a9a52"/>
<polygon points="15.8,16.5 14.3,21.1 13.1,16.9" fill="#2a9a52"/>
<polygon points="11.4,40.4 8.3,40.8 9.0,36.6" fill="#239048"/>
<polygon points="14.3,58.2 15.9,52.5 19.4,57.0" fill="#5a2c9c"/>
<polygon points="38.0,61.2 35.5,60.4 35.8,56.9 37.7,58.2" fill="#5a2c9c"/>
<polygon points="83.6,68.1 86.0,73.1 81.7,74.0" fill="#2a9a52"/>
<polygon points="14.0,76.4 13.3,72.3 16.8,68.4 19.3,74.1" fill="#5a2c9c"/>
<polygon points="74.4,53.3 72.9,57.0 66.5,58.3 67.1,52.4" fill="#2a9a52"/>
<polygon points="9.9,61.6 11.5,60.0 14.1,61.1 12.2,64.0" fill="#239048"/>
<polygon points="98.1,37.5 94.4,34.6 98.9,34.1" fill="#4e2a90"/>
<polygon points="54.9,15.4 60.0,14.8 62.4,17.7 59.0,20.4" fill="#2a9a52"/>
<polygon points="7.3,49.5 5.7,45.9 7.6,44.1 10.3,48.5" fill="#5a2c9c"/>
<polygon points="40.3,69.8 45.6,69.4 45.1,72.8 41.4,74.4" fill="#2a9a52"/>
<polygon points="92.7,65.1 94.4,68.2 92.4,69.3 90.2,68.0" fill="#2a7a6a"/>
<polygon points="30.7,72.3 25.1,73.6 24.7,68.2 28.5,68.4" fill="#2a9a52"/>
<polygon points="65.5,25.3 69.5,25.7 67.6,28.7" fill="#4e2a90"/>
<polygon points="33.9,18.4 36.1,23.9 31.5,23.6" fill="#5a2c9c"/>
<polygon points="96.7,0.2 93.2,3.9 92.7,-1.6" fill="#5a2c9c"/>
<polygon points="63.8,42.6 58.6,43.4 59.8,39.8" fill="#2a9a52"/>
<polygon points="55.7,45.5 59.2,42.1 59.9,46.3" fill="#239048"/>
<polygon points="42.1,38.0 41.5,35.4 44.8,34.2 46.1,37.9" fill="#2a9a52"/>
<polygon points="85.9,38.7 82.4,34.8 89.1,33.6 89.0,37.0" fill="#4e2a90"/>
<polygon points="45.2,54.9 48.9,60.2 43.3,60.9" fill="#2a9a52"/>
<polygon points="48.8,69.9 52.4,68.2 53.1,71.4" fill="#239048"/>
<polygon points="37.6,48.0 39.9,49.0 38.3,51.8 35.0,50.7" fill="#4e2a90"/>
<polygon points="89.2,31.6 81.9,33.3 85.3,28.0" fill="#4e2a90"/>
<polygon points="18.6,68.6 17.4,62.6 24.5,64.8" fill="#2a9a52"/>
<polygon points="94.7,2.4 98.6,3.8 96.0,8.4 93.1,6.3" fill="#239048"/>
<polygon points="63.6,63.3 63.5,56.5 70.5,61.6" fill="#2a9a52"/>
<polygon points="34.4,32.5 34.8,38.2 30.3,36.8" fill="#2a7a6a"/>
<polygon points="26.4,36.8 30.3,39.4 25.8,40.6" fill="#2a9a52"/>
<polygon points="6.2,44.3 7.9,46.4 5.8,48.9 2.7,45.9" fill="#2a9a52"/>
<polygon points="2.5,64.4 -2.3,66.1 -2.1,60.0 1.7,60.5" fill="#2a9a52"/>
<polygon points="48.3,5.2 50.7,2.2 54.0,3.3 52.4,6.7" fill="#239048"/>
<polygon points="30.4,33.8 34.9,33.9 33.1,37.1" fill="#4e2a90"/>
<polygon points="29.7,23.8 27.1,27.3 23.6,22.2 27.0,21.2" fill="#2a9a52"/>
<polygon points="31.3,36.7 28.8,38.4 27.8,34.7" fill="#2a9a52"/>
<polygon points="17.5,23.3 19.1,19.7 21.0,21.8 19.0,25.0" fill="#2a9a52"/>
<polygon points="57.8,14.5 62.0,12.8 64.6,16.2 62.6,17.5" fill="#2a9a52"/>
<polygon points="91.5,54.8 96.7,58.7 90.4,61.0" fill="#239048"/>
<polygon points="-1.6,40.3 1.9,46.5 -5.0,47.4" fill="#2a9a52"/>
<polygon points="13.9,71.6 10.0,74.1 9.9,69.7" fill="#239048"/>
<polygon points="83.5,53.3 82.7,48.8 88.3,48.8" fill="#2a7a6a"/>
<polygon points="87.2,38.0 86.7,32.2 90.2,33.2 91.0,36.9" fill="#4e2a90"/>
<polygon points="27.7,14.4 32.0,18.8 27.4,20.8 25.0,17.2" fill="#5a2c9c"/>
<polygon points="2.0,44.0 5.7,46.7 2.5,49.9 0.8,47.6" fill="#2a9a52"/>
<polygon points="54.2,25.4 48.9,23.5 52.9,21.2" fill="#2a9a52"/>
<polygon points="87.7,5.4 84.8,1.3 88.9,-1.3 91.2,3.9" fill="#2a9a52"/>
<polygon points="72.6,27.2 68.7,24.7 73.3,23.1" fill="#2a7a6a"/>
<polygon points="82.9,39.1 81.5,42.3 79.0,38.6" fill="#2a9a52"/>
<polygon points="58.9,7.2 56.5,3.2 61.8,1.9 61.0,6.2" fill="#5a2c9c"/>
<polygon points="15.6,5.5 19.5,1.4 21.8,8.2" fill="#5a2c9c"/>
<polygon points="56.1,46.8 58.7,45.5 60.0,47.5 57.9,49.6" fill="#2a9a52"/>
<polygon points="84.9,65.2 82.3,70.0 78.8,66.8" fill="#5a2c9c"/>
<polygon points="3.9,59.6 0.6,60.0 0.6,56.8" fill="#2a9a52"/>
<polygon points="61.8,57.6 59.9,54.8 64.3,54.4" fill="#2a7a6a"/>
<polygon points="7.4,36.5 9.5,42.5 2.2,41.0" fill="#5a2c9c"/>
<polygon points="-2.7,32.7 0.0,28.5 2.4,30.9 2.2,33.5" fill="#239048"/>
<polygon points="10.3,48.6 5.6,47.0 10.9,43.9" fill="#2a9a52"/>
<polygon points="74.5,26.6 76.0,32.5 72.6,32.3 69.6,27.7" fill="#2a9a52"/>
<polygon points="21.1,62.1 15.0,66.4 15.0,59.6" fill="#5a2c9c"/>
<polygon points="-2.8,31.7 -0.3,27.2 2.6,30.4 0.1,33.0" fill="#2a7a6a"/>
<polygon points="68.0,73.1 68.5,67.1 71.8,68.3 72.9,72.8" fill="#5a2c9c"/>
<polygon points="2.1,-1.7 0.9,2.1 -2.5,-1.2" fill="#5a2c9c"/>
<polygon points="2.1,34.9 4.6,31.9 7.3,33.0 6.2,35.4" fill="#5a2c9c"/>
<polygon points="82.2,45.8 83.4,41.0 87.6,41.5 86.6,45.9" fill="#4e2a90"/>
<polygon points="53.6,29.3 55.4,28.1 56.4,30.8 54.4,32.5" fill="#2a9a52"/>
<polygon points="41.8,36.9 41.1,32.4 47.3,33.1 45.2,39.1" fill="#2a9a52"/>
<polygon points="46.8,16.2 50.4,15.7 48.9,19.6" fill="#2a9a52"/>
<polygon points="31.7,10.2 33.1,5.1 35.5,9.9" fill="#4e2a90"/>
<polygon points="43.5,41.7 46.3,36.7 50.4,39.6 49.8,42.6" fill="#2a9a52"/>
<polygon points="92.1,64.0 88.0,67.5 86.8,60.6 90.7,60.1" fill="#5a2c9c"/>
<polygon points="75.1,59.0 72.0,55.1 74.5,52.7 77.1,55.1" fill="#4e2a90"/>
<polygon points="78.0,7.4 74.5,7.9 73.8,3.5 76.2,2.6" fill="#2a7a6a"/>
<polygon points="13.2,27.4 17.4,27.8 14.6,30.3" fill="#2a9a52"/>
<polygon points="38.5,19.6 42.7,16.9 44.6,21.1 41.5,22.4" fill="#2a9a52"/>
<polygon points="3.0,29.3 8.9,31.5 5.8,36.5" fill="#2a9a52"/>
<polygon points="51.6,8.1 56.2,10.6 50.8,12.8" fill="#4e2a90"/>
<polygon points="4.6,13.8 6.1,16.7 3.6,19.2 -0.2,15.7" fill="#2a9a52"/>
<polygon points="16.0,-1.4 20.0,-2.5 20.1,1.4" fill="#4e2a90"/>
<polygon points="8.4,18.5 11.6,18.7 11.3,22.3 7.4,21.5" fill="#5a2c9c"/>
<polygon points="46.0,70.3 44.5,68.4 46.7,65.8 47.9,68.1" fill="#2a9a52"/>
<polygon points="74.1,17.0 75.9,18.4 74.5,20.9 72.6,19.6" fill="#2a9a52"/>
<polygon points="88.8,70.7 90.6,67.9 94.2,68.4 93.4,72.6" fill="#5a2c9c"/>
<polygon points="71.9,73.4 73.8,70.1 76.8,73.1 73.4,74.6" fill="#239048"/>
<polygon points="-1.0,2.1 2.4,5.2 -0.2,9.5 -3.2,5.6" fill="#2a9a52"/>
<polygon points="90.2,44.2 89.4,48.3 84.9,46.5 86.1,43.3" fill="#2a9a52"/>
<polygon points="82.7,3.1 88.3,1.0 86.7,5.8" fill="#2a9a52"/>
<polygon points="87.0,54.1 89.1,56.1 86.9,58.5 84.4,56.7" fill="#2a7a6a"/>
<polygon points="85.9,13.4 84.5,16.7 80.9,15.7 82.1,12.5" fill="#5a2c9c"/>
<polygon points="32.7,2.9 33.2,-2.2 37.0,-1.6" fill="#5a2c9c"/>
<polygon points="49.4,14.0 53.6,14.9 49.8,18.4" fill="#2a9a52"/>
<polygon points="26.0,40.0 25.1,44.7 20.8,40.6" fill="#2a9a52"/>
<polygon points="74.7,46.5 75.8,41.1 78.0,45.7" fill="#2a7a6a"/>
<polygon points="8.7,19.5 12.2,24.2 9.0,26.1 4.4,22.2" fill="#2a9a52"/>
<polygon points="49.1,-1.2 54.5,-2.7 52.4,1.4" fill="#5a2c9c"/>
<polygon points="13.3,66.4 12.3,73.5 8.4,69.6" fill="#2a9a52"/>
<polygon points="31.8,73.1 28.4,75.0 29.2,70.0" fill="#4e2a90"/>
<polygon points="8.7,58.6 9.6,54.6 15.0,57.6 11.3,61.0" fill="#2a9a52"/>
<polygon points="54.0,18.1 55.8,23.5 51.6,25.0 51.1,19.1" fill="#2a7a6a"/>
<polygon points="64.7,60.2 59.6,62.3 62.1,55.7" fill="#4e2a90"/>
<polygon points="46.1,50.6 47.8,46.1 51.1,48.1 51.6,51.0" fill="#2a9a52"/>
<polygon points="26.0,68.4 22.7,66.8 26.0,62.7 28.7,65.4" fill="#2a7a6a"/>
<polygon points="86.9,54.8 89.3,57.9 87.6,60.1 84.4,57.2" fill="#2a9a52"/>
<polygon points="42.2,64.9 41.8,59.5 45.3,58.3 46.9,65.2" fill="#2a9a52"/>
<polygon points="70.4,52.4 68.1,52.2 69.0,48.6 70.9,49.6" fill="#2a9a52"/>
<polygon points="48.8,40.9 43.6,41.8 43.8,36.4" fill="#4e2a90"/>
<polygon points="86.2,26.7 86.5,29.5 84.0,30.5 82.9,27.6" fill="#5a2c9c"/>
<polygon points="61.1,62.5 57.1,60.1 62.0,55.5" fill="#239048"/>
<polygon points="74.0,70.7 75.0,67.4 76.9,69.6" fill="#2a9a52"/>
<polygon points="28.7,15.5 32.3,20.9 25.6,22.3" fill="#4e2a90"/>
<polygon points="73.8,35.3 70.2,39.4 68.3,34.5" fill="#5a2c9c"/>
<polygon points="80.1,65.3 83.4,59.2 84.3,63.5" fill="#2a9a52"/>
<polygon points="28.9,24.6 28.2,20.2 32.3,23.6" fill="#2a9a52"/>
<polygon points="43.7,23.2 44.7,27.7 40.9,26.8" fill="#4e2a90"/>
<polygon points="69.9,25.5 66.1,29.3 63.7,25.8 66.3,21.3" fill="#2a9a52"/>
<polygon points="36.4,14.1 33.9,15.9 33.4,12.1" fill="#239048"/>
<polygon points="31.1,31.8 36.8,33.8 33.8,37.1" fill="#2a9a52"/>
<polygon points="78.3,64.3 74.2,67.3 70.2,66.4 73.4,61.7" fill="#2a9a52"/>
<polygon points="73.3,6.4 73.9,9.5 70.4,8.6" fill="#239048"/>
<polygon points="14.2,25.7 19.3,22.0 19.2,28.2" fill="#2a9a52"/>
<polygon points="61.8,34.9 62.4,32.8 67.0,35.2 64.2,38.2" fill="#2a9a52"/>
<polygon points="33.8,47.1 37.2,40.9 39.6,45.0" fill="#2a9a52"/>
<polygon points="18.3,26.8 15.8,25.0 20.0,23.0" fill="#2a9a52"/>
<polygon points="7.3,4.5 8.5,0.9 10.2,3.5" fill="#5a2c9c"/>
<polygon points="91.6,41.2 93.9,46.3 87.0,45.1" fill="#239048"/>
<polygon points="4.4,7.0 4.6,3.9 10.7,2.5 9.6,8.6" fill="#2a9a52"/>
<polygon points="74.1,30.2 78.0,35.4 72.7,35.7" fill="#2a7a6a"/>
<polygon points="24.1,-0.8 24.0,3.7 19.8,1.7" fill="#2a9a52"/>
<polygon points="63.4,6.4 68.8,3.2 66.6,9.1" fill="#2a9a52"/>
<polygon points="9.4,36.4 7.0,40.3 3.0,37.1 7.3,34.7" fill="#239048"/>
<polygon points="20.5,3.2 23.4,-0.3 26.9,3.0" fill="#2a9a52"/>
<polygon points="55.1,72.0 52.4,75.3 51.6,71.1" fill="#2a9a52"/>
<polygon points="9.1,30.5 11.2,27.1 14.7,29.4 13.8,32.6" fill="#4e2a90"/>
<polygon points="19.7,47.0 23.8,44.8 23.2,49.2" fill="#2a9a52"/>
<polygon points="25.2,34.8 23.0,33.3 24.8,30.7 26.7,32.4" fill="#2a9a52"/>
<polygon points="33.4,53.8 38.3,58.8 33.3,59.8" fill="#2a7a6a"/>
<polygon points="19.0,55.6 12.4,58.0 12.4,55.0 15.5,52.0" fill="#2a9a52"/>
<polygon points="30.9,18.9 33.8,16.8 34.2,20.8" fill="#2a9a52"/>
<polygon points="64.3,2.1 59.0,7.6 58.4,2.4" fill="#2a9a52"/>
<polygon points="5.4,53.2 1.4,52.6 3.8,48.1 6.5,50.0" fill="#5a2c9c"/>
<polygon points="15.8,54.9 12.2,50.3 14.4,46.7 19.9,49.3" fill="#2a9a52"/>
<polygon points="33.8,31.9 32.1,26.4 37.6,30.0" fill="#2a9a52"/>
<polygon points="63.9,6.8 59.0,4.5 62.7,1.1 65.6,2.6" fill="#2a9a52"/>
<polygon points="40.4,-2.7 35.4,2.6 34.3,-2.2" fill="#4e2a90"/>
<polygon points="8.2,61.0 13.1,57.0 14.0,61.4" fill="#2a9a52"/>
<polygon points="5.9,6.5 9.4,9.0 5.5,10.5" fill="#2a9a52"/>
<polygon points="52.4,18.0 54.6,21.8 51.0,23.1 49.5,20.0" fill="#2a9a52"/>
<polygon points="30.5,53.8 33.2,50.8 36.1,53.7 34.1,55.3" fill="#4e2a90"/>
<polygon points="24.1,6.7 24.9,9.0 21.2,10.9 20.7,5.0" fill="#2a9a52"/>
<polygon points="28.4,62.5 26.4,60.1 28.9,58.2" fill="#2a7a6a"/>
<polygon points="72.7,2.6 74.1,5.0 71.8,6.8 70.3,4.9" fill="#2a9a52"/>
<polygon points="25.4,6.8 21.0,10.4 17.8,7.4 23.2,3.6" fill="#2a7a6a"/>
<polygon points="78.2,11.9 81.6,10.5 81.8,12.7 78.7,14.9" fill="#2a9a52"/>
<polygon points="78.3,62.4 77.8,66.5 73.4,62.4" fill="#239048"/>
<polygon points="4.7,66.7 3.9,62.6 8.1,64.2" fill="#2a9a52"/>
<polygon points="60.8,44.3 56.6,44.2 56.6,38.7 59.5,40.3" fill="#5a2c9c"/>
<polygon points="-0.5,40.0 -3.1,39.8 -3.9,36.6 0.3,36.5" fill="#2a9a52"/>
<polygon points="53.1,24.9 52.2,21.2 56.6,22.8" fill="#2a9a52"/>
<polygon points="30.9,22.2 33.6,25.2 28.8,26.5" fill="#5a2c9c"/>
<polygon points="80.9,49.3 78.8,51.0 76.5,48.9 78.4,46.8" fill="#2a9a52"/>
<polygon points="92.0,74.2 92.9,70.9 95.0,70.6 95.5,75.5" fill="#2a9a52"/>
<polygon points="6.0,70.3 1.0,74.0 -1.6,68.1 2.0,67.1" fill="#5a2c9c"/>
<polygon points="64.8,26.0 67.8,28.4 65.2,31.7 61.4,29.8" fill="#5a2c9c"/>
<polygon points="4.3,54.5 6.3,50.9 9.4,52.6 7.5,57.1" fill="#5a2c9c"/>
<polygon points="80.2,50.2 79.6,53.9 77.9,52.0" fill="#2a9a52"/>
<polygon points="33.8,58.1 37.1,55.7 39.4,58.9 37.1,61.9" fill="#4e2a90"/>
<polygon points="82.3,68.3 79.9,66.2 83.9,61.9 86.5,64.5" fill="#2a9a52"/>
<polygon points="74.5,32.3 71.7,27.6 76.7,25.9 78.1,31.5" fill="#2a9a52"/>
<polygon points="6.6,67.4 2.0,68.0 3.1,63.8" fill="#2a9a52"/>
<polygon points="21.3,18.7 21.7,15.4 24.9,18.7" fill="#2a7a6a"/>
<polygon points="52.6,16.2 54.3,20.0 52.2,20.6 50.1,18.4" fill="#239048"/>
<polygon points="2.9,17.3 6.5,15.9 6.9,19.9 2.3,19.9" fill="#2a9a52"/>
<polygon points="49.9,39.6 55.7,38.2 53.8,42.9" fill="#239048"/>
<polygon points="94.7,34.1 91.1,31.9 91.4,27.1 95.3,27.1" fill="#4e2a90"/>
<polygon points="-1.3,48.1 2.5,50.6 -1.7,52.3" fill="#2a9a52"/>
<polygon points="59.1,41.3 60.6,37.9 63.3,37.9 62.7,42.0" fill="#239048"/>
<polygon points="92.1,56.7 90.7,62.1 86.0,58.6" fill="#2a9a52"/>
<polygon points="74.3,61.5 75.6,57.4 79.4,59.8 76.2,62.6" fill="#2a9a52"/>
<polygon points="38.0,42.5 41.5,44.1 38.9,46.8" fill="#4e2a90"/>
<polygon points="59.6,68.3 55.5,69.3 53.4,64.5 59.4,64.9" fill="#5a2c9c"/>
<polygon points="67.4,-2.4 71.0,-2.9 69.6,0.9" fill="#2a9a52"/>
<polygon points="48.9,52.6 49.3,56.8 46.4,59.5 43.3,53.7" fill="#239048"/>
<polygon points="73.4,55.4 70.8,59.8 68.2,56.5" fill="#2a9a52"/>
<polygon points="30.8,53.9 34.0,55.8 33.5,59.9 28.8,56.8" fill="#2a7a6a"/>
<polygon points="77.0,19.3 79.4,15.6 82.7,17.8 80.0,21.0" fill="#5a2c9c"/>
<polygon points="53.4,38.9 51.5,42.1 51.1,39.2" fill="#5a2c9c"/>
<polygon points="13.8,27.4 16.5,32.3 12.2,34.5 8.4,31.1" fill="#4e2a90"/>
<polygon points="97.3,26.5 92.9,25.1 96.1,21.0" fill="#239048"/>
<polygon points="76.4,35.5 73.5,31.1 81.2,30.4" fill="#239048"/>
<polygon points="6.4,60.7 12.2,60.4 9.4,63.4" fill="#239048"/>
<polygon points="47.1,21.9 44.2,17.7 49.2,18.3" fill="#239048"/>
<polygon points="23.0,8.8 27.6,11.0 23.5,16.3 20.1,13.1" fill="#5a2c9c"/>
<polygon points="67.0,37.0 70.3,35.0 71.3,38.8 66.9,40.6" fill="#239048"/>
<polygon points="32.0,67.1 27.1,67.9 28.3,62.9" fill="#2a7a6a"/>
<polygon points="60.6,10.6 58.7,14.0 54.0,13.1 54.5,7.9" fill="#239048"/>
<polygon points="32.9,33.9 29.3,31.0 32.0,28.1 34.1,31.5" fill="#5a2c9c"/>
<polygon points="51.2,73.4 56.9,71.1 55.6,77.7" fill="#2a9a52"/>
<polygon points="58.1,64.3 60.0,67.7 56.7,67.3" fill="#2a9a52"/>
<polygon points="8.9,-5.1 12.6,-4.3 13.9,1.4 7.6,-0.2" fill="#239048"/>
<polygon points="29.9,40.1 25.5,45.1 22.3,38.6" fill="#2a9a52"/>
<polygon points="36.9,31.5 38.3,33.5 34.9,34.6 34.0,32.4" fill="#2a9a52"/>
<polygon points="23.7,55.9 19.3,58.1 18.5,53.0" fill="#5a2c9c"/>
<polygon points="45.9,27.3 43.3,27.2 43.0,22.5 48.2,23.0" fill="#2a9a52"/>
<polygon points="10.2,13.9 15.3,12.1 14.7,18.9" fill="#4e2a90"/>
<polygon points="30.9,11.3 35.2,6.7 37.3,10.8" fill="#2a9a52"/>
<polygon points="3.4,36.2 0.1,33.7 4.2,32.8" fill="#2a9a52"/>
<polygon points="81.1,31.1 79.0,27.1 84.9,27.0 84.3,31.2" fill="#2a9a52"/>
<polygon points="11.5,61.1 15.5,60.5 14.3,68.1 10.2,64.1" fill="#2a7a6a"/>
<polygon points="4.8,4.0 8.4,1.8 9.8,5.2 7.6,7.6" fill="#5a2c9c"/>
<polygon points="82.1,69.3 81.4,64.4 84.5,63.4 85.9,67.6" fill="#239048"/>
<polygon points="73.8,33.8 76.6,37.2 73.7,39.5" fill="#239048"/>
<polygon points="63.3,68.4 58.8,66.8 61.4,62.7" fill="#4e2a90"/>
<polygon points="86.8,7.0 91.1,9.1 87.9,12.5" fill="#2a9a52"/>
<polygon points="51.5,41.9 48.2,42.6 48.7,39.2 52.4,39.0" fill="#4e2a90"/>
<polygon points="91.4,20.5 90.7,26.1 85.0,24.7 85.9,20.0" fill="#5a2c9c"/>
<polygon points="78.5,28.5 82.7,27.8 79.5,31.6" fill="#239048"/>
<polygon points="11.0,24.8 14.9,22.8 15.1,25.1 11.2,26.3" fill="#2a9a52"/>
<polygon points="83.6,69.0 80.5,70.3 80.6,66.5" fill="#2a7a6a"/>
<polygon points="1.7,52.6 1.7,56.8 -3.0,54.3" fill="#2a9a52"/>
<polygon points="10.1,65.5 14.1,67.6 11.2,71.1 9.1,69.6" fill="#2a9a52"/>
<polygon points="36.9,47.0 35.3,50.2 29.7,46.9 33.3,42.0" fill="#5a2c9c"/>
<polygon points="82.0,68.9 80.3,63.5 84.8,65.0" fill="#4e2a90"/>
<polygon points="22.7,64.0 22.9,59.7 26.1,62.5" fill="#5a2c9c"/>
<polygon points="21.0,6.2 19.7,9.6 17.8,9.0 18.6,5.5" fill="#2a7a6a"/>
<polygon points="91.7,11.9 90.9,6.9 96.2,9.4" fill="#239048"/>
<polygon points="61.9,23.0 63.1,27.3 58.6,27.3 58.2,23.4" fill="#5a2c9c"/>
<polygon points="50.5,65.3 47.1,67.4 48.6,62.7" fill="#239048"/>
<polygon points="16.7,4.7 9.9,7.9 8.8,1.2 14.5,-0.2" fill="#2a9a52"/>
<polygon points="43.2,3.8 45.1,-0.6 47.0,2.6" fill="#2a9a52"/>
<polygon points="31.5,69.2 27.6,67.1 29.7,64.2 32.2,64.7" fill="#4e2a90"/>
<polygon points="8.7,72.3 13.2,71.6 12.3,75.8 9.4,75.4" fill="#5a2c9c"/>
<polygon points="16.3,-1.2 13.6,2.9 9.8,-1.6" fill="#4e2a90"/>
<polygon points="43.5,22.5 41.1,22.1 41.4,19.6 44.4,19.7" fill="#5a2c9c"/>
<polygon points="12.2,14.0 10.2,10.5 14.0,10.4" fill="#5a2c9c"/>
<polygon points="99.0,52.5 92.2,54.7 92.6,47.8" fill="#2a9a52"/>
<polygon points="66.7,53.8 70.5,57.5 68.3,61.0 63.0,58.3" fill="#4e2a90"/>
<polygon points="86.0,1.1 89.9,6.1 85.3,7.3 83.8,4.3" fill="#2a9a52"/>
<polygon points="40.3,17.4 37.7,14.6 42.3,13.1" fill="#239048"/>
<polygon points="95.8,37.6 97.5,40.7 92.4,41.8 92.6,37.5" fill="#239048"/>
<polygon points="26.6,66.7 28.6,70.3 24.7,73.5 21.4,70.0" fill="#4e2a90"/>
<polygon points="49.3,17.0 51.2,19.7 48.7,20.9" fill="#4e2a90"/>
<polygon points="2.8,49.4 6.0,54.9 1.7,54.4" fill="#2a9a52"/>
<polygon points="55.8,41.7 57.5,46.0 53.8,45.5" fill="#239048"/>
<polygon points="33.8,58.6 34.7,54.9 37.7,55.9 37.0,59.6" fill="#4e2a90"/>
<polygon points="36.6,7.2 31.2,11.0 30.7,6.0" fill="#2a7a6a"/>
<polygon points="33.2,25.7 30.4,28.5 27.5,25.8 30.5,21.9" fill="#239048"/>
<polygon points="56.7,73.8 51.7,72.2 56.0,67.3" fill="#5a2c9c"/>
<polygon points="3.6,7.8 8.6,5.7 9.7,10.5 5.9,10.7" fill="#5a2c9c"/>
<polygon points="28.5,62.2 31.7,64.8 27.4,66.6 24.4,65.3" fill="#5a2c9c"/>
<polygon points="32.4,48.0 33.6,52.8 29.8,52.8" fill="#2a9a52"/>
<polygon points="88.8,51.2 92.7,50.9 90.6,54.0" fill="#2a9a52"/>
<polygon points="10.6,46.8 15.6,41.6 16.1,46.6" fill="#2a7a6a"/>
<polygon points="22.2,4.1 19.4,1.3 22.5,0.1" fill="#5a2c9c"/>
<polygon points="86.1,53.2 82.8,53.8 84.1,50.5" fill="#2a9a52"/>
</pattern></defs>
<g id="bottom"><polygon points="86.8,360.3 371.6,360.3 316.6,450.5 26.4,448.6" fill="url(#surf2)"/>
<circle cx="89.9" cy="363.8" r="1.75" fill="#dce6d0"/>
<circle cx="104.8" cy="363.4" r="1.75" fill="#dce6d0"/>
<circle cx="119.9" cy="363.8" r="1.75" fill="#dce6d0"/>
<circle cx="134.7" cy="363.6" r="1.75" fill="#dce6d0"/>
<circle cx="149.7" cy="363.8" r="1.75" fill="#dce6d0"/>
<circle cx="165.2" cy="363.6" r="1.75" fill="#dce6d0"/>
<circle cx="179.6" cy="363.2" r="1.75" fill="#dce6d0"/>
<circle cx="194.6" cy="363.4" r="1.75" fill="#dce6d0"/>
<circle cx="209.8" cy="363.5" r="1.75" fill="#dce6d0"/>
<circle cx="224.3" cy="363.3" r="1.75" fill="#dce6d0"/>
<circle cx="239.9" cy="363.6" r="1.75" fill="#dce6d0"/>
<circle cx="254.9" cy="363.3" r="1.75" fill="#dce6d0"/>
<circle cx="269.5" cy="363.2" r="1.75" fill="#dce6d0"/>
<circle cx="284.2" cy="363.4" r="1.75" fill="#dce6d0"/>
<circle cx="299.3" cy="363.9" r="1.75" fill="#dce6d0"/>
<circle cx="314.1" cy="363.5" r="1.75" fill="#dce6d0"/>
<circle cx="329.1" cy="363.8" r="1.75" fill="#dce6d0"/>
<circle cx="344.1" cy="363.8" r="1.75" fill="#dce6d0"/>
<circle cx="359.4" cy="363.4" r="1.75" fill="#dce6d0"/>
<circle cx="90.5" cy="372.6" r="1.75" fill="#dce6d0"/>
<circle cx="105.5" cy="372.6" r="1.75" fill="#dce6d0"/>
<circle cx="121.0" cy="372.3" r="1.75" fill="#dce6d0"/>
<circle cx="136.2" cy="372.6" r="1.75" fill="#dce6d0"/>
<circle cx="150.5" cy="372.8" r="1.75" fill="#dce6d0"/>
<circle cx="166.4" cy="372.7" r="1.75" fill="#dce6d0"/>
<circle cx="181.5" cy="372.3" r="1.75" fill="#dce6d0"/>
<circle cx="195.5" cy="372.4" r="1.75" fill="#dce6d0"/>
<circle cx="211.5" cy="372.6" r="1.75" fill="#dce6d0"/>
<circle cx="225.5" cy="372.7" r="1.75" fill="#dce6d0"/>
<circle cx="241.4" cy="372.4" r="1.75" fill="#dce6d0"/>
<circle cx="256.2" cy="372.7" r="1.75" fill="#dce6d0"/>
<circle cx="270.9" cy="372.7" r="1.75" fill="#dce6d0"/>
<circle cx="286.1" cy="372.7" r="1.75" fill="#dce6d0"/>
<circle cx="301.4" cy="372.2" r="1.75" fill="#dce6d0"/>
<circle cx="315.6" cy="372.5" r="1.75" fill="#dce6d0"/>
<circle cx="330.8" cy="372.3" r="1.75" fill="#dce6d0"/>
<circle cx="345.4" cy="372.4" r="1.75" fill="#dce6d0"/>
<circle cx="361.6" cy="372.4" r="1.75" fill="#dce6d0"/>
<circle cx="77.0" cy="381.3" r="1.75" fill="#dce6d0"/>
<circle cx="92.5" cy="381.0" r="1.75" fill="#dce6d0"/>
<circle cx="107.0" cy="381.4" r="1.75" fill="#dce6d0"/>
<circle cx="122.2" cy="381.6" r="1.75" fill="#dce6d0"/>
<circle cx="136.9" cy="381.1" r="1.75" fill="#dce6d0"/>
<circle cx="152.9" cy="381.6" r="1.75" fill="#dce6d0"/>
<circle cx="167.5" cy="381.5" r="1.75" fill="#dce6d0"/>
<circle cx="182.0" cy="381.1" r="1.75" fill="#dce6d0"/>
<circle cx="197.3" cy="381.5" r="1.75" fill="#dce6d0"/>
<circle cx="212.3" cy="381.4" r="1.75" fill="#dce6d0"/>
<circle cx="226.9" cy="381.8" r="1.75" fill="#dce6d0"/>
<circle cx="242.1" cy="381.3" r="1.75" fill="#dce6d0"/>
<circle cx="257.7" cy="381.8" r="1.75" fill="#dce6d0"/>
<circle cx="272.2" cy="381.4" r="1.75" fill="#dce6d0"/>
<circle cx="287.8" cy="381.4" r="1.75" fill="#dce6d0"/>
<circle cx="301.9" cy="381.2" r="1.75" fill="#dce6d0"/>
<circle cx="317.2" cy="381.0" r="1.75" fill="#dce6d0"/>
<circle cx="331.8" cy="381.7" r="1.75" fill="#dce6d0"/>
<circle cx="347.8" cy="381.7" r="1.75" fill="#dce6d0"/>
<circle cx="79.3" cy="390.0" r="1.75" fill="#dce6d0"/>
<circle cx="93.7" cy="390.2" r="1.75" fill="#dce6d0"/>
<circle cx="109.0" cy="390.5" r="1.75" fill="#dce6d0"/>
<circle cx="124.3" cy="390.7" r="1.75" fill="#dce6d0"/>
<circle cx="138.9" cy="390.7" r="1.75" fill="#dce6d0"/>
<circle cx="153.9" cy="390.1" r="1.75" fill="#dce6d0"/>
<circle cx="168.8" cy="390.2" r="1.75" fill="#dce6d0"/>
<circle cx="184.2" cy="390.6" r="1.75" fill="#dce6d0"/>
<circle cx="198.3" cy="390.5" r="1.75" fill="#dce6d0"/>
<circle cx="213.9" cy="390.6" r="1.75" fill="#dce6d0"/>
<circle cx="228.3" cy="390.4" r="1.75" fill="#dce6d0"/>
<circle cx="243.3" cy="390.3" r="1.75" fill="#dce6d0"/>
<circle cx="258.6" cy="390.2" r="1.75" fill="#dce6d0"/>
<circle cx="273.6" cy="390.4" r="1.75" fill="#dce6d0"/>
<circle cx="288.3" cy="390.4" r="1.75" fill="#dce6d0"/>
<circle cx="303.2" cy="390.5" r="1.75" fill="#dce6d0"/>
<circle cx="318.2" cy="390.3" r="1.75" fill="#dce6d0"/>
<circle cx="333.1" cy="390.6" r="1.75" fill="#dce6d0"/>
<circle cx="349.3" cy="390.5" r="1.75" fill="#dce6d0"/>
<circle cx="65.4" cy="399.0" r="1.75" fill="#dce6d0"/>
<circle cx="79.9" cy="399.3" r="1.75" fill="#dce6d0"/>
<circle cx="94.7" cy="399.3" r="1.75" fill="#dce6d0"/>
<circle cx="109.9" cy="399.0" r="1.75" fill="#dce6d0"/>
<circle cx="125.2" cy="399.2" r="1.75" fill="#dce6d0"/>
<circle cx="139.7" cy="399.3" r="1.75" fill="#dce6d0"/>
<circle cx="154.8" cy="399.4" r="1.75" fill="#dce6d0"/>
<circle cx="169.9" cy="399.5" r="1.75" fill="#dce6d0"/>
<circle cx="185.2" cy="398.9" r="1.75" fill="#dce6d0"/>
<circle cx="199.9" cy="399.5" r="1.75" fill="#dce6d0"/>
<circle cx="214.9" cy="399.5" r="1.75" fill="#dce6d0"/>
<circle cx="230.6" cy="399.6" r="1.75" fill="#dce6d0"/>
<circle cx="245.4" cy="399.2" r="1.75" fill="#dce6d0"/>
<circle cx="260.1" cy="399.0" r="1.75" fill="#dce6d0"/>
<circle cx="274.9" cy="399.1" r="1.75" fill="#dce6d0"/>
<circle cx="290.5" cy="399.5" r="1.75" fill="#dce6d0"/>
<circle cx="305.3" cy="399.5" r="1.75" fill="#dce6d0"/>
<circle cx="320.0" cy="399.4" r="1.75" fill="#dce6d0"/>
<circle cx="335.0" cy="398.9" r="1.75" fill="#dce6d0"/>
<circle cx="66.4" cy="408.1" r="1.75" fill="#dce6d0"/>
<circle cx="81.1" cy="408.2" r="1.75" fill="#dce6d0"/>
<circle cx="96.3" cy="407.9" r="1.75" fill="#dce6d0"/>
<circle cx="111.3" cy="408.6" r="1.75" fill="#dce6d0"/>
<circle cx="126.8" cy="408.2" r="1.75" fill="#dce6d0"/>
<circle cx="141.2" cy="408.2" r="1.75" fill="#dce6d0"/>
<circle cx="156.3" cy="408.3" r="1.75" fill="#dce6d0"/>
<circle cx="171.2" cy="408.3" r="1.75" fill="#dce6d0"/>
<circle cx="186.8" cy="408.1" r="1.75" fill="#dce6d0"/>
<circle cx="201.2" cy="408.3" r="1.75" fill="#dce6d0"/>
<circle cx="216.6" cy="408.6" r="1.75" fill="#dce6d0"/>
<circle cx="231.9" cy="408.2" r="1.75" fill="#dce6d0"/>
<circle cx="246.5" cy="408.5" r="1.75" fill="#dce6d0"/>
<circle cx="261.6" cy="407.9" r="1.75" fill="#dce6d0"/>
<circle cx="276.4" cy="407.9" r="1.75" fill="#dce6d0"/>
<circle cx="291.7" cy="408.5" r="1.75" fill="#dce6d0"/>
<circle cx="306.7" cy="407.9" r="1.75" fill="#dce6d0"/>
<circle cx="321.4" cy="407.9" r="1.75" fill="#dce6d0"/>
<circle cx="336.7" cy="408.5" r="1.75" fill="#dce6d0"/>
<circle cx="53.4" cy="417.0" r="1.75" fill="#dce6d0"/>
<circle cx="68.1" cy="417.5" r="1.75" fill="#dce6d0"/>
<circle cx="83.2" cy="417.2" r="1.75" fill="#dce6d0"/>
<circle cx="97.8" cy="417.1" r="1.75" fill="#dce6d0"/>
<circle cx="112.5" cy="417.4" r="1.75" fill="#dce6d0"/>
<circle cx="127.9" cy="417.4" r="1.75" fill="#dce6d0"/>
<circle cx="142.9" cy="417.0" r="1.75" fill="#dce6d0"/>
<circle cx="157.6" cy="416.9" r="1.75" fill="#dce6d0"/>
<circle cx="173.1" cy="417.2" r="1.75" fill="#dce6d0"/>
<circle cx="187.7" cy="417.6" r="1.75" fill="#dce6d0"/>
<circle cx="202.7" cy="417.1" r="1.75" fill="#dce6d0"/>
<circle cx="217.5" cy="417.0" r="1.75" fill="#dce6d0"/>
<circle cx="232.6" cy="417.2" r="1.75" fill="#dce6d0"/>
<circle cx="247.8" cy="417.2" r="1.75" fill="#dce6d0"/>
<circle cx="263.3" cy="417.1" r="1.75" fill="#dce6d0"/>
<circle cx="278.0" cy="417.2" r="1.75" fill="#dce6d0"/>
<circle cx="293.4" cy="417.3" r="1.75" fill="#dce6d0"/>
<circle cx="308.4" cy="417.1" r="1.75" fill="#dce6d0"/>
<circle cx="322.5" cy="417.0" r="1.75" fill="#dce6d0"/>
<circle cx="54.1" cy="425.9" r="1.75" fill="#dce6d0"/>
<circle cx="69.8" cy="426.4" r="1.75" fill="#dce6d0"/>
<circle cx="83.9" cy="425.9" r="1.75" fill="#dce6d0"/>
<circle cx="99.3" cy="425.8" r="1.75" fill="#dce6d0"/>
<circle cx="114.8" cy="426.0" r="1.75" fill="#dce6d0"/>
<circle cx="129.0" cy="425.8" r="1.75" fill="#dce6d0"/>
<circle cx="144.2" cy="426.2" r="1.75" fill="#dce6d0"/>
<circle cx="158.8" cy="426.3" r="1.75" fill="#dce6d0"/>
<circle cx="174.3" cy="426.4" r="1.75" fill="#dce6d0"/>
<circle cx="189.8" cy="426.4" r="1.75" fill="#dce6d0"/>
<circle cx="204.2" cy="426.0" r="1.75" fill="#dce6d0"/>
<circle cx="219.4" cy="426.1" r="1.75" fill="#dce6d0"/>
<circle cx="234.2" cy="425.9" r="1.75" fill="#dce6d0"/>
<circle cx="248.8" cy="425.8" r="1.75" fill="#dce6d0"/>
<circle cx="264.4" cy="426.5" r="1.75" fill="#dce6d0"/>
<circle cx="279.8" cy="426.0" r="1.75" fill="#dce6d0"/>
<circle cx="293.9" cy="425.8" r="1.75" fill="#dce6d0"/>
<circle cx="308.8" cy="426.4" r="1.75" fill="#dce6d0"/>
<circle cx="324.1" cy="426.0" r="1.75" fill="#dce6d0"/>
<circle cx="40.5" cy="435.1" r="1.75" fill="#dce6d0"/>
<circle cx="55.6" cy="434.9" r="1.75" fill="#dce6d0"/>
<circle cx="71.1" cy="435.1" r="1.75" fill="#dce6d0"/>
<circle cx="85.7" cy="435.4" r="1.75" fill="#dce6d0"/>
<circle cx="100.8" cy="435.4" r="1.75" fill="#dce6d0"/>
<circle cx="115.2" cy="434.9" r="1.75" fill="#dce6d0"/>
<circle cx="130.3" cy="435.1" r="1.75" fill="#dce6d0"/>
<circle cx="145.3" cy="435.4" r="1.75" fill="#dce6d0"/>
<circle cx="160.3" cy="435.0" r="1.75" fill="#dce6d0"/>
<circle cx="175.5" cy="435.0" r="1.75" fill="#dce6d0"/>
<circle cx="190.9" cy="435.1" r="1.75" fill="#dce6d0"/>
<circle cx="206.0" cy="435.0" r="1.75" fill="#dce6d0"/>
<circle cx="221.0" cy="435.4" r="1.75" fill="#dce6d0"/>
<circle cx="235.5" cy="435.4" r="1.75" fill="#dce6d0"/>
<circle cx="251.1" cy="434.9" r="1.75" fill="#dce6d0"/>
<circle cx="265.7" cy="435.4" r="1.75" fill="#dce6d0"/>
<circle cx="280.3" cy="435.4" r="1.75" fill="#dce6d0"/>
<circle cx="295.4" cy="435.4" r="1.75" fill="#dce6d0"/>
<circle cx="310.5" cy="435.5" r="1.75" fill="#dce6d0"/>
<circle cx="42.0" cy="443.8" r="1.75" fill="#dce6d0"/>
<circle cx="57.3" cy="444.1" r="1.75" fill="#dce6d0"/>
<circle cx="71.6" cy="444.4" r="1.75" fill="#dce6d0"/>
<circle cx="86.7" cy="443.8" r="1.75" fill="#dce6d0"/>
<circle cx="102.3" cy="444.0" r="1.75" fill="#dce6d0"/>
<circle cx="117.4" cy="444.0" r="1.75" fill="#dce6d0"/>
<circle cx="132.1" cy="444.2" r="1.75" fill="#dce6d0"/>
<circle cx="147.5" cy="443.8" r="1.75" fill="#dce6d0"/>
<circle cx="161.5" cy="444.0" r="1.75" fill="#dce6d0"/>
<circle cx="176.6" cy="444.3" r="1.75" fill="#dce6d0"/>
<circle cx="191.8" cy="443.9" r="1.75" fill="#dce6d0"/>
<circle cx="206.5" cy="443.9" r="1.75" fill="#dce6d0"/>
<circle cx="221.8" cy="443.9" r="1.75" fill="#dce6d0"/>
<circle cx="236.7" cy="443.9" r="1.75" fill="#dce6d0"/>
<circle cx="252.3" cy="443.7" r="1.75" fill="#dce6d0"/>
<circle cx="267.0" cy="444.2" r="1.75" fill="#dce6d0"/>
<circle cx="281.4" cy="444.3" r="1.75" fill="#dce6d0"/>
<circle cx="297.3" cy="443.8" r="1.75" fill="#dce6d0"/>
<circle cx="311.5" cy="443.7" r="1.75" fill="#dce6d0"/>
<polyline points="26.4,448.6 86.8,360.3 371.6,360.3" fill="none" stroke="#5e2ea0" stroke-width="1.6"/>
<polygon points="26.4,448.6 316.6,450.5 318,473 28,473" fill="url(#slabF)"/>
<polygon points="26.4,448.6 29.5,449 31,473 28,473" fill="#4a5a8a"/>
<polygon points="316.6,450.5 371.6,360.3 375.4,383.4 318,473" fill="#050508"/>
<circle cx="135.8" cy="372.2" r="47.5" fill="url(#oil)"/>
<path d="M88.5,359 Q135,355 183,359 L183,381 Q135,376 88.5,381 Z" fill="#a82032" opacity="0.5"/>
<path d="M144,332 Q168,331 175,352 Q162,337 144,332Z" fill="#ffffff" opacity="0.75"/>
<path d="M92,352 Q97,338 108,333 L112,350 L104,372 L96,396 Q88,376 92,352Z" fill="#ffd0d0" opacity="0.22"/>
<circle cx="135.8" cy="372.2" r="46.8" fill="none" stroke="#e88888" stroke-width="1.4" opacity="0.55"/>
<circle cx="107.0" cy="381.4" r="1.2" fill="#f0a0a0" opacity="0.8"/>
<circle cx="122.2" cy="381.6" r="1.2" fill="#f0a0a0" opacity="0.8"/>
<circle cx="136.9" cy="381.1" r="1.2" fill="#f0a0a0" opacity="0.8"/>
<circle cx="152.9" cy="381.6" r="1.2" fill="#f0a0a0" opacity="0.8"/>
<circle cx="167.5" cy="381.5" r="1.2" fill="#f0a0a0" opacity="0.8"/>
<circle cx="109.0" cy="390.5" r="1.2" fill="#f0a0a0" opacity="0.8"/>
<circle cx="124.3" cy="390.7" r="1.2" fill="#f0a0a0" opacity="0.8"/>
<circle cx="138.9" cy="390.7" r="1.2" fill="#f0a0a0" opacity="0.8"/>
<circle cx="153.9" cy="390.1" r="1.2" fill="#f0a0a0" opacity="0.8"/>
<circle cx="168.8" cy="390.2" r="1.2" fill="#f0a0a0" opacity="0.8"/>
<circle cx="109.9" cy="399.0" r="1.2" fill="#f0a0a0" opacity="0.8"/>
<circle cx="125.2" cy="399.2" r="1.2" fill="#f0a0a0" opacity="0.8"/>
<circle cx="139.7" cy="399.3" r="1.2" fill="#f0a0a0" opacity="0.8"/>
<circle cx="154.8" cy="399.4" r="1.2" fill="#f0a0a0" opacity="0.8"/>
<circle cx="169.9" cy="399.5" r="1.2" fill="#f0a0a0" opacity="0.8"/>
<circle cx="111.3" cy="408.6" r="1.2" fill="#f0a0a0" opacity="0.8"/>
<circle cx="126.8" cy="408.2" r="1.2" fill="#f0a0a0" opacity="0.8"/>
<circle cx="141.2" cy="408.2" r="1.2" fill="#f0a0a0" opacity="0.8"/>
<circle cx="156.3" cy="408.3" r="1.2" fill="#f0a0a0" opacity="0.8"/>
<text x="118.5" y="382.2" font-size="25" fill="#1a0608">Oil</text>
<circle cx="262.2" cy="369.5" r="48" fill="url(#water)"/>
<path d="M214.2,360.3 L310.2,360.3 L310,381 Q262,376 214.4,381 Z" fill="#2e5c9c" opacity="0.45"/>
<path d="M214.5,381 Q262,376 310,381 Q305,412 262,417.5 Q219,412 214.5,381Z" fill="#2c6098" opacity="0.5"/>
<path d="M270,327 Q296,326 303,349 Q290,333 270,327Z" fill="#ffffff" opacity="0.9"/>
<circle cx="262.2" cy="369.5" r="47.3" fill="none" stroke="#a8cce8" stroke-width="1.4" opacity="0.7"/>
<circle cx="224.3" cy="363.3" r="1.1" fill="#b8d8f0" opacity="0.8"/>
<circle cx="239.9" cy="363.6" r="1.1" fill="#b8d8f0" opacity="0.8"/>
<circle cx="254.9" cy="363.3" r="1.1" fill="#b8d8f0" opacity="0.8"/>
<circle cx="269.5" cy="363.2" r="1.1" fill="#b8d8f0" opacity="0.8"/>
<circle cx="284.2" cy="363.4" r="1.1" fill="#b8d8f0" opacity="0.8"/>
<circle cx="299.3" cy="363.9" r="1.1" fill="#b8d8f0" opacity="0.8"/>
<circle cx="225.5" cy="372.7" r="1.1" fill="#b8d8f0" opacity="0.8"/>
<circle cx="241.4" cy="372.4" r="1.1" fill="#b8d8f0" opacity="0.8"/>
<circle cx="256.2" cy="372.7" r="1.1" fill="#b8d8f0" opacity="0.8"/>
<circle cx="270.9" cy="372.7" r="1.1" fill="#b8d8f0" opacity="0.8"/>
<circle cx="286.1" cy="372.7" r="1.1" fill="#b8d8f0" opacity="0.8"/>
<circle cx="301.4" cy="372.2" r="1.1" fill="#b8d8f0" opacity="0.8"/>
<circle cx="226.9" cy="381.8" r="1.1" fill="#b8d8f0" opacity="0.8"/>
<circle cx="242.1" cy="381.3" r="1.1" fill="#b8d8f0" opacity="0.8"/>
<circle cx="257.7" cy="381.8" r="1.1" fill="#b8d8f0" opacity="0.8"/>
<circle cx="272.2" cy="381.4" r="1.1" fill="#b8d8f0" opacity="0.8"/>
<circle cx="287.8" cy="381.4" r="1.1" fill="#b8d8f0" opacity="0.8"/>
<circle cx="301.9" cy="381.2" r="1.1" fill="#b8d8f0" opacity="0.8"/>
<circle cx="228.3" cy="390.4" r="1.1" fill="#b8d8f0" opacity="0.8"/>
<circle cx="243.3" cy="390.3" r="1.1" fill="#b8d8f0" opacity="0.8"/>
<circle cx="258.6" cy="390.2" r="1.1" fill="#b8d8f0" opacity="0.8"/>
<circle cx="273.6" cy="390.4" r="1.1" fill="#b8d8f0" opacity="0.8"/>
<circle cx="288.3" cy="390.4" r="1.1" fill="#b8d8f0" opacity="0.8"/>
<circle cx="230.6" cy="399.6" r="1.1" fill="#b8d8f0" opacity="0.8"/>
<circle cx="245.4" cy="399.2" r="1.1" fill="#b8d8f0" opacity="0.8"/>
<circle cx="260.1" cy="399.0" r="1.1" fill="#b8d8f0" opacity="0.8"/>
<circle cx="274.9" cy="399.1" r="1.1" fill="#b8d8f0" opacity="0.8"/>
<circle cx="290.5" cy="399.5" r="1.1" fill="#b8d8f0" opacity="0.8"/>
<circle cx="246.5" cy="408.5" r="1.1" fill="#b8d8f0" opacity="0.8"/>
<circle cx="261.6" cy="407.9" r="1.1" fill="#b8d8f0" opacity="0.8"/>
<circle cx="276.4" cy="407.9" r="1.1" fill="#b8d8f0" opacity="0.8"/>
<text x="229.5" y="379.4" font-size="25.5" fill="#0a1a30">Water</text>
<polygon points="445,307.2 466.5,298.5 527.7,490.6 510.4,500" fill="url(#sideF)" stroke="#4a4a56" stroke-width="0.8"/>
<polygon points="466.5,298.5 556,313 610.9,503.6 527.7,490.6" fill="#c0b6ba" stroke="#6a6a74" stroke-width="0.8"/>
<polygon points="510.4,500 527.7,490.6 610.9,503.6 594.3,513" fill="#07070e"/>
<polyline points="445,307.2 466.5,298.5 556,313" fill="none" stroke="#44505c" stroke-width="1.8" stroke-linejoin="round"/>
<text transform="translate(450.2,307.8) rotate(71.4)" font-size="21" fill="#101010" stroke="#101010" stroke-width="0.3" xml:space="preserve">5083 aluminum  alloy</text>
<ellipse cx="487.5" cy="314.5" rx="14.2" ry="13.6" fill="url(#ppart)"/>
<ellipse cx="488.5" cy="315.5" rx="3.6" ry="4.6" fill="#361650" opacity="0.75"/>
<path d="M490.5,320.5 l5,-3" stroke="#f4e8f4" stroke-width="1.6"/>
<ellipse cx="517.5" cy="317.9" rx="14.2" ry="13.6" fill="url(#ppart)"/>
<ellipse cx="518.5" cy="318.9" rx="3.6" ry="4.6" fill="#361650" opacity="0.75"/>
<path d="M520.5,323.9 l5,-3" stroke="#f4e8f4" stroke-width="1.6"/>
<ellipse cx="547.5" cy="321.3" rx="14.2" ry="13.6" fill="url(#ppart)"/>
<ellipse cx="548.5" cy="322.3" rx="3.6" ry="4.6" fill="#361650" opacity="0.75"/>
<path d="M550.5,327.3 l5,-3" stroke="#f4e8f4" stroke-width="1.6"/>
<ellipse cx="497.9" cy="346.1" rx="14.2" ry="13.6" fill="url(#ppart)"/>
<ellipse cx="498.9" cy="347.1" rx="3.6" ry="4.6" fill="#361650" opacity="0.75"/>
<path d="M500.9,352.1 l5,-3" stroke="#f4e8f4" stroke-width="1.6"/>
<ellipse cx="527.9" cy="349.5" rx="14.2" ry="13.6" fill="url(#ppart)"/>
<ellipse cx="528.9" cy="350.5" rx="3.6" ry="4.6" fill="#361650" opacity="0.75"/>
<path d="M530.9,355.5 l5,-3" stroke="#f4e8f4" stroke-width="1.6"/>
<ellipse cx="557.9" cy="352.9" rx="14.2" ry="13.6" fill="url(#ppart)"/>
<ellipse cx="558.9" cy="353.9" rx="3.6" ry="4.6" fill="#361650" opacity="0.75"/>
<path d="M560.9,358.9 l5,-3" stroke="#f4e8f4" stroke-width="1.6"/>
<ellipse cx="508.3" cy="377.7" rx="14.2" ry="13.6" fill="url(#ppart)"/>
<ellipse cx="509.3" cy="378.7" rx="3.6" ry="4.6" fill="#361650" opacity="0.75"/>
<path d="M511.3,383.7 l5,-3" stroke="#f4e8f4" stroke-width="1.6"/>
<ellipse cx="538.3" cy="381.1" rx="14.2" ry="13.6" fill="url(#ppart)"/>
<ellipse cx="539.3" cy="382.1" rx="3.6" ry="4.6" fill="#361650" opacity="0.75"/>
<path d="M541.3,387.1 l5,-3" stroke="#f4e8f4" stroke-width="1.6"/>
<ellipse cx="568.3" cy="384.5" rx="14.2" ry="13.6" fill="url(#ppart)"/>
<ellipse cx="569.3" cy="385.5" rx="3.6" ry="4.6" fill="#361650" opacity="0.75"/>
<path d="M571.3,390.5 l5,-3" stroke="#f4e8f4" stroke-width="1.6"/>
<ellipse cx="518.7" cy="409.3" rx="14.2" ry="13.6" fill="url(#ppart)"/>
<ellipse cx="519.7" cy="410.3" rx="3.6" ry="4.6" fill="#361650" opacity="0.75"/>
<path d="M521.7,415.3 l5,-3" stroke="#f4e8f4" stroke-width="1.6"/>
<ellipse cx="548.7" cy="412.7" rx="14.2" ry="13.6" fill="url(#ppart)"/>
<ellipse cx="549.7" cy="413.7" rx="3.6" ry="4.6" fill="#361650" opacity="0.75"/>
<path d="M551.7,418.7 l5,-3" stroke="#f4e8f4" stroke-width="1.6"/>
<ellipse cx="578.7" cy="416.1" rx="14.2" ry="13.6" fill="url(#ppart)"/>
<ellipse cx="579.7" cy="417.1" rx="3.6" ry="4.6" fill="#361650" opacity="0.75"/>
<path d="M581.7,422.1 l5,-3" stroke="#f4e8f4" stroke-width="1.6"/>
<ellipse cx="529.1" cy="440.9" rx="14.2" ry="13.6" fill="url(#ppart)"/>
<ellipse cx="530.1" cy="441.9" rx="3.6" ry="4.6" fill="#361650" opacity="0.75"/>
<path d="M532.1,446.9 l5,-3" stroke="#f4e8f4" stroke-width="1.6"/>
<ellipse cx="559.1" cy="444.3" rx="14.2" ry="13.6" fill="url(#ppart)"/>
<ellipse cx="560.1" cy="445.3" rx="3.6" ry="4.6" fill="#361650" opacity="0.75"/>
<path d="M562.1,450.3 l5,-3" stroke="#f4e8f4" stroke-width="1.6"/>
<ellipse cx="589.1" cy="447.7" rx="14.2" ry="13.6" fill="url(#ppart)"/>
<ellipse cx="590.1" cy="448.7" rx="3.6" ry="4.6" fill="#361650" opacity="0.75"/>
<path d="M592.1,453.7 l5,-3" stroke="#f4e8f4" stroke-width="1.6"/>
<ellipse cx="539.5" cy="472.5" rx="14.2" ry="13.6" fill="url(#ppart)"/>
<ellipse cx="540.5" cy="473.5" rx="3.6" ry="4.6" fill="#361650" opacity="0.75"/>
<path d="M542.5,478.5 l5,-3" stroke="#f4e8f4" stroke-width="1.6"/>
<ellipse cx="569.5" cy="475.9" rx="14.2" ry="13.6" fill="url(#ppart)"/>
<ellipse cx="570.5" cy="476.9" rx="3.6" ry="4.6" fill="#361650" opacity="0.75"/>
<path d="M572.5,481.9 l5,-3" stroke="#f4e8f4" stroke-width="1.6"/>
<ellipse cx="599.5" cy="479.3" rx="14.2" ry="13.6" fill="url(#ppart)"/>
<ellipse cx="600.5" cy="480.3" rx="3.6" ry="4.6" fill="#361650" opacity="0.75"/>
<path d="M602.5,485.3 l5,-3" stroke="#f4e8f4" stroke-width="1.6"/>
<use href="#pgear" x="485.5" y="304.5"/>
<use href="#pgear" x="477.5" y="313.5"/>
<use href="#pgear" x="496.5" y="310.5"/>
<use href="#pgear" x="482.5" y="324.0"/>
<use href="#pgear" x="495.5" y="322.5"/>
<use href="#pgear" x="515.5" y="307.9"/>
<use href="#pgear" x="507.5" y="316.9"/>
<use href="#pgear" x="526.5" y="313.9"/>
<use href="#pgear" x="512.5" y="327.4"/>
<use href="#pgear" x="525.5" y="325.9"/>
<use href="#pgear" x="545.5" y="311.3"/>
<use href="#pgear" x="537.5" y="320.3"/>
<use href="#pgear" x="556.5" y="317.3"/>
<use href="#pgear" x="542.5" y="330.8"/>
<use href="#pgear" x="555.5" y="329.3"/>
<use href="#pgear" x="495.9" y="336.1"/>
<use href="#pgear" x="487.9" y="345.1"/>
<use href="#pgear" x="506.9" y="342.1"/>
<use href="#pgear" x="492.9" y="355.6"/>
<use href="#pgear" x="505.9" y="354.1"/>
<use href="#pgear" x="525.9" y="339.5"/>
<use href="#pgear" x="517.9" y="348.5"/>
<use href="#pgear" x="536.9" y="345.5"/>
<use href="#pgear" x="522.9" y="359.0"/>
<use href="#pgear" x="535.9" y="357.5"/>
<use href="#pgear" x="555.9" y="342.9"/>
<use href="#pgear" x="547.9" y="351.9"/>
<use href="#pgear" x="566.9" y="348.9"/>
<use href="#pgear" x="552.9" y="362.4"/>
<use href="#pgear" x="565.9" y="360.9"/>
<use href="#pgear" x="506.3" y="367.7"/>
<use href="#pgear" x="498.3" y="376.7"/>
<use href="#pgear" x="517.3" y="373.7"/>
<use href="#pgear" x="503.3" y="387.2"/>
<use href="#pgear" x="516.3" y="385.7"/>
<use href="#pgear" x="536.3" y="371.1"/>
<use href="#pgear" x="528.3" y="380.1"/>
<use href="#pgear" x="547.3" y="377.1"/>
<use href="#pgear" x="533.3" y="390.6"/>
<use href="#pgear" x="546.3" y="389.1"/>
<use href="#pgear" x="566.3" y="374.5"/>
<use href="#pgear" x="558.3" y="383.5"/>
<use href="#pgear" x="577.3" y="380.5"/>
<use href="#pgear" x="563.3" y="394.0"/>
<use href="#pgear" x="576.3" y="392.5"/>
<use href="#pgear" x="516.7" y="399.3"/>
<use href="#pgear" x="508.7" y="408.3"/>
<use href="#pgear" x="527.7" y="405.3"/>
<use href="#pgear" x="513.7" y="418.8"/>
<use href="#pgear" x="526.7" y="417.3"/>
<use href="#pgear" x="546.7" y="402.7"/>
<use href="#pgear" x="538.7" y="411.7"/>
<use href="#pgear" x="557.7" y="408.7"/>
<use href="#pgear" x="543.7" y="422.2"/>
<use href="#pgear" x="556.7" y="420.7"/>
<use href="#pgear" x="576.7" y="406.1"/>
<use href="#pgear" x="568.7" y="415.1"/>
<use href="#pgear" x="587.7" y="412.1"/>
<use href="#pgear" x="573.7" y="425.6"/>
<use href="#pgear" x="586.7" y="424.1"/>
<use href="#pgear" x="527.1" y="430.9"/>
<use href="#pgear" x="519.1" y="439.9"/>
<use href="#pgear" x="538.1" y="436.9"/>
<use href="#pgear" x="524.1" y="450.4"/>
<use href="#pgear" x="537.1" y="448.9"/>
<use href="#pgear" x="557.1" y="434.3"/>
<use href="#pgear" x="549.1" y="443.3"/>
<use href="#pgear" x="568.1" y="440.3"/>
<use href="#pgear" x="554.1" y="453.8"/>
<use href="#pgear" x="567.1" y="452.3"/>
<use href="#pgear" x="587.1" y="437.7"/>
<use href="#pgear" x="579.1" y="446.7"/>
<use href="#pgear" x="598.1" y="443.7"/>
<use href="#pgear" x="584.1" y="457.2"/>
<use href="#pgear" x="597.1" y="455.7"/>
<use href="#pgear" x="537.5" y="462.5"/>
<use href="#pgear" x="529.5" y="471.5"/>
<use href="#pgear" x="548.5" y="468.5"/>
<use href="#pgear" x="534.5" y="482.0"/>
<use href="#pgear" x="547.5" y="480.5"/>
<use href="#pgear" x="567.5" y="465.9"/>
<use href="#pgear" x="559.5" y="474.9"/>
<use href="#pgear" x="578.5" y="471.9"/>
<use href="#pgear" x="564.5" y="485.4"/>
<use href="#pgear" x="577.5" y="483.9"/>
<use href="#pgear" x="597.5" y="469.3"/>
<use href="#pgear" x="589.5" y="478.3"/>
<use href="#pgear" x="608.5" y="475.3"/>
<use href="#pgear" x="594.5" y="488.8"/>
<use href="#pgear" x="607.5" y="487.3"/>
<use href="#pgear" x="501.5" y="329.5"/>
<use href="#pgear" x="531.5" y="332.9"/>
<use href="#pgear" x="511.9" y="361.1"/>
<use href="#pgear" x="541.9" y="364.5"/>
<use href="#pgear" x="522.3" y="392.7"/>
<use href="#pgear" x="552.3" y="396.1"/>
<use href="#pgear" x="532.7" y="424.3"/>
<use href="#pgear" x="562.7" y="427.7"/>
<use href="#pgear" x="543.1" y="455.9"/>
<use href="#pgear" x="573.1" y="459.3"/>
<use href="#pgear" x="553.5" y="487.5"/>
<use href="#pgear" x="583.5" y="490.9"/>
<polygon points="662.6,303.5 680.5,295.2 744.5,488 728.4,496.7" fill="url(#sideF)" stroke="#4a4a56" stroke-width="0.8"/>
<polygon points="680.5,295.2 760.1,307.9 822.5,499.5 744.5,488" fill="url(#frontF)" stroke="#5a5a66" stroke-width="0.8"/>
<polygon points="728.4,496.7 744.5,488 822.5,499.5 807.8,510.6" fill="#07070e"/>
<text transform="translate(668.6,302.2) rotate(71.4)" font-size="21" fill="#101010" stroke="#101010" stroke-width="0.3" xml:space="preserve">5083 aluminum  alloy</text>
<polyline points="662.6,303.5 680.5,295.2 760.1,307.9" fill="none" stroke="#44505c" stroke-width="1.8" stroke-linejoin="round"/>
<polygon points="731,341.1 797.5,370.2 764.3,440.9" fill="#8c8cf0" opacity="0.55"/>
<g>
<path d="M794.5,323.6 L818.9,322.7 L820.7,349 Q818,355.5 811,355.8 Q805.5,355.5 804.4,353 Z" fill="url(#cupG)" stroke="#6a707a" stroke-width="0.6"/>
<path d="M808,354 L815,354 L817,360 L809,361 Z" fill="#c8ccd2" stroke="#7a808a" stroke-width="0.5"/>
<path d="M799,359.5 L835,354 L840,358.5 L801,366.5 Z" fill="#e4e7ea" stroke="#8a9098" stroke-width="0.6"/>
<path d="M826,360 L834,357.5 L857.5,397.5 L853,401 Z" fill="#e0e3e6" stroke="#8a9098" stroke-width="0.6"/>
<path d="M821,366 L825,365 L830,383 L826.5,384.5 Z" fill="#c4c8ce" stroke="#7a808a" stroke-width="0.5"/>
<path d="M798,360 L806,358.5 L807,366 L799,367.5 Z" fill="#9ea3aa" stroke="#6a707a" stroke-width="0.5"/>
<path d="M790,361 L798,360 L799,366 L791,367 Z" fill="#b8bcc2"/>
</g>
<path d="M936,376 L936,495 Q936,509.5 951,509.5 L1028,509.5 Q1042,509.5 1042,495 L1042,376 Z" fill="url(#glass)" stroke="#a0b4c4" stroke-width="1"/>
<path d="M937.5,427 Q989,417 1040.5,427 L1040.5,494 Q1040.5,508 1027,508 L952,508 Q937.5,508 937.5,494 Z" fill="url(#liq)"/>
<ellipse cx="989" cy="425" rx="51.5" ry="6.5" fill="#eef2f4"/>
<path d="M937.5,455 Q989,468 1040.5,455 L1040.5,462 Q989,476 937.5,462Z" fill="#c8d0d6" opacity="0.6"/>
<ellipse cx="989.7" cy="375.6" rx="54" ry="17.5" fill="#e8ecef" stroke="#a0aab2" stroke-width="1"/>
<ellipse cx="990" cy="374.8" rx="48.8" ry="13.4" fill="#d2d8dd" stroke="#b4bcc4" stroke-width="0.8"/>
<use href="#gear" x="945.1" y="434.4"/>
<use href="#gear" x="986.8" y="430.5"/>
<use href="#gear" x="1027.5" y="434.4"/>
<use href="#gear" x="959.1" y="450.7"/>
<use href="#gear" x="998.2" y="444.2"/>
<use href="#gear" x="1032.3" y="463.7"/>
<use href="#gear" x="967.2" y="471.9"/>
<use href="#gear" x="998.2" y="465.4"/>
<use href="#gear" x="1017.7" y="476.8"/>
<use href="#gear" x="988.4" y="475.2"/>
<use href="#gear" x="947.7" y="486.5"/>
<use href="#gear" x="965.6" y="489.8"/>
<use href="#gear" x="985.1" y="498.9"/>
<use href="#gear" x="1029.1" y="486.5"/>
<use href="#pball" x="965.6" y="432.8"/>
<use href="#pball" x="1009.5" y="432.8"/>
<use href="#pball" x="980.2" y="455.6"/>
<use href="#pball" x="1015.1" y="456.6"/>
<use href="#pball" x="947.7" y="467"/>
<use href="#pball" x="1004.7" y="492.4"/>
<circle cx="915.2" cy="297.1" r="14" fill="url(#pvd)"/>
<ellipse cx="911" cy="290.5" rx="4.5" ry="3" fill="#f4dcff" opacity="0.85" transform="rotate(-30 911 290.5)"/>
<path d="M950,280.3 Q972,299 975,324 L961.3,325.8 L988.6,346.5 L1004.6,323 L992.5,323.4 Q988,296 965.5,282 Z" fill="url(#arrC)"/></g>
<!-- Stirring / Drying arrow -->
<text x="575.4" y="145.2" font-size="24.9" fill="#101820">Stirring</text>
<text x="577.5" y="200.4" font-size="24.9" fill="#101820">Drying</text>
<path d="M577.5,157.5 L631.5,157.5 L631.5,147 L648.5,161.3 L631.5,175.5 L631.5,165.2 L577.5,165.2 Z" fill="url(#arrR)" stroke="#5e7878" stroke-width="1"/>
<text x="691.2" y="231.3" font-size="24.5" fill="#101820">F-SiO<tspan font-size="16" dy="5.5">2</tspan></text>
<!-- big dashed circle -->
<circle cx="915.5" cy="138" r="125" fill="none" stroke="#222a30" stroke-width="2" stroke-dasharray="5.2 3.7"/>
<line x1="744" y1="141" x2="823" y2="54" stroke="#222a30" stroke-width="2" stroke-dasharray="5.2 3.7"/>
<line x1="745" y1="157" x2="836" y2="234.5" stroke="#222a30" stroke-width="2" stroke-dasharray="5.2 3.7"/>
<!-- bottom row arrows -->
<path d="M926.8,409.8 L872.5,409.8 L872.5,399.5 L855.7,413.9 L872.5,428.3 L872.5,418.2 L926.8,418.2 Z" fill="url(#arrH)" stroke="#4e6a6a" stroke-width="1"/>
<path d="M679.7,409.6 L626,409.6 L626,399.5 L608.7,413.9 L626,428.6 L626,418.2 L679.7,418.2 Z" fill="url(#arrH)" stroke="#4e6a6a" stroke-width="1"/>
<path d="M450.6,409.9 L396,409.9 L396,400.1 L379,413.9 L396,427.8 L396,418 L450.6,418 Z" fill="url(#arrH)" stroke="#4e6a6a" stroke-width="1"/>
<text x="382.5" y="396" font-size="25" fill="#101820">230</text>
<text x="428.5" y="396" font-size="25" fill="#101820">°</text>
<text transform="translate(438.5,396) scale(0.72,1)" font-size="25" fill="#101820">C</text>
<text x="380" y="452.8" font-size="24.8" fill="#101820">Curing</text>
<text x="706" y="531.2" font-size="24.45" fill="#101820">Spray-coating</text>
<text x="884.8" y="334.3" font-size="23.9" fill="#101820">PVDF</text>
<text x="989.8" y="295" font-size="24.3" fill="#101820">Ethanol</text>
<text x="20" y="511.5" font-size="29.4" font-weight="bold" font-style="italic" fill="#0a0a0a" xml:space="preserve">Superamphiphobic  coating</text>
</svg>
</body></html>
